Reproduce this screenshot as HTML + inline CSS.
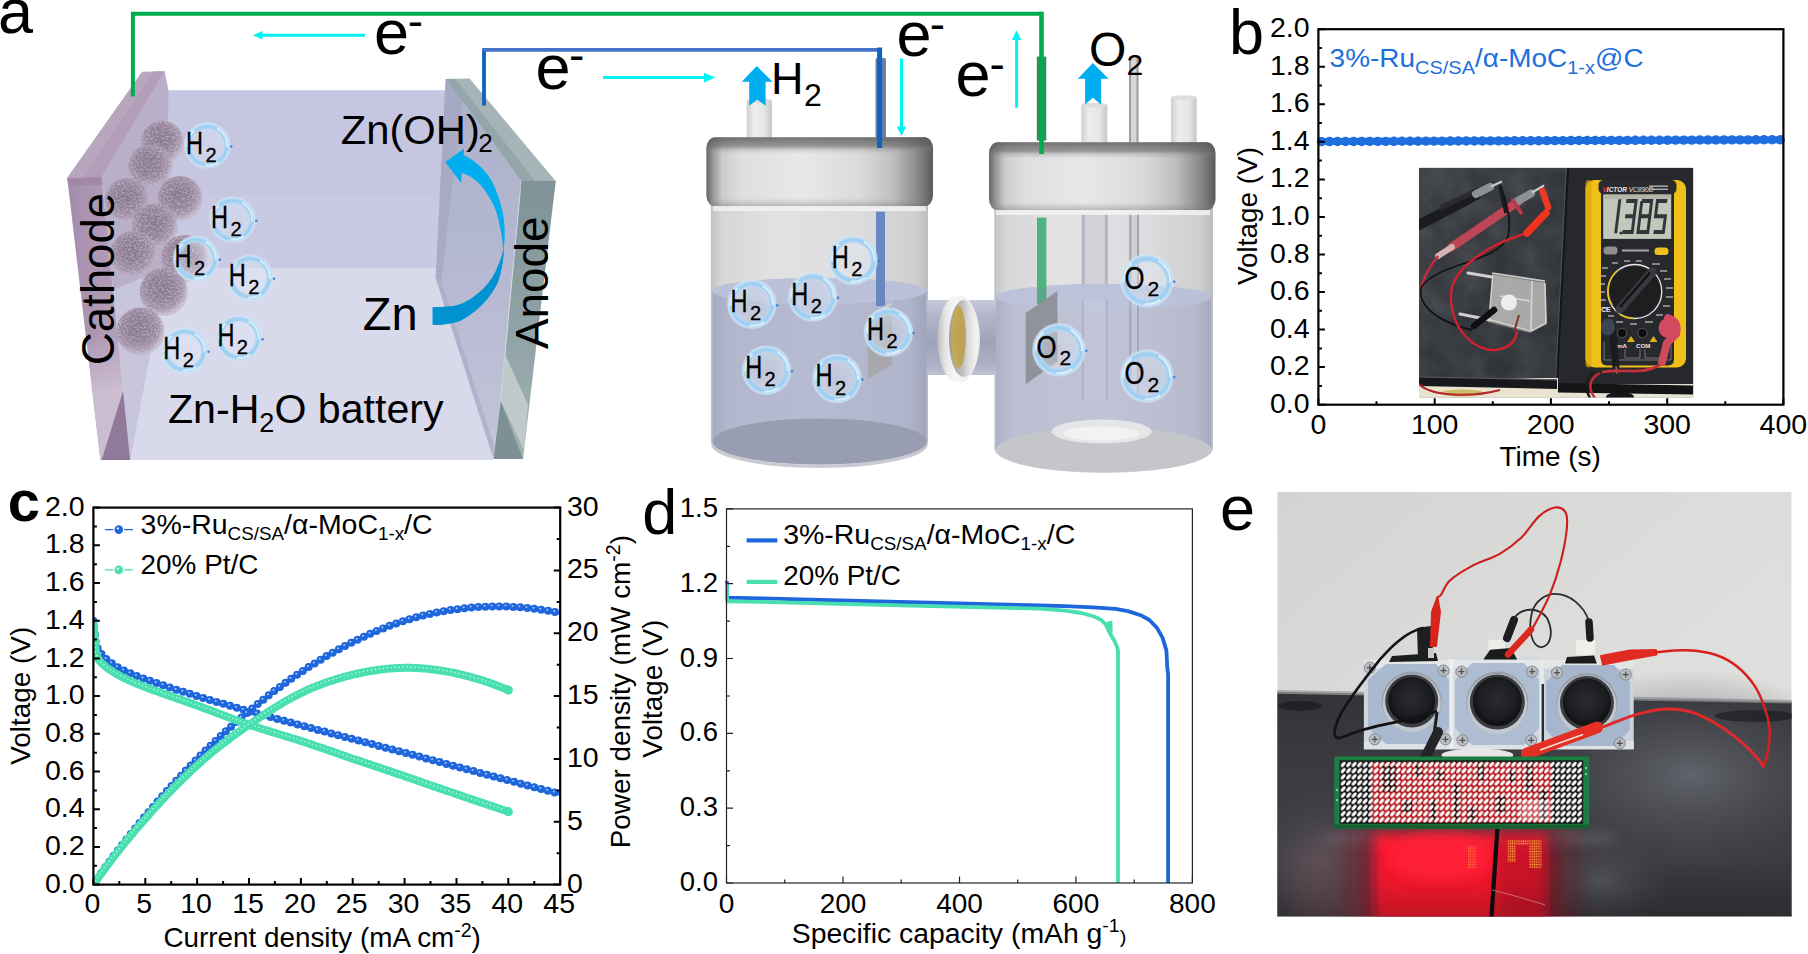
<!DOCTYPE html>
<html><head><meta charset="utf-8"><title>Figure</title>
<style>
html,body{margin:0;padding:0;background:#fff;}
body{width:1808px;height:954px;overflow:hidden;font-family:"Liberation Sans",sans-serif;}
svg{display:block;font-family:"Liberation Sans",sans-serif;}
.tk{font-size:28.5px;fill:#000;}
.pl{font-size:63px;fill:#000;}
.ti{font-size:27.9px;fill:#000;}
</style></head>
<body>
<svg width="1808" height="954" viewBox="0 0 1808 954">
<!-- defs -->
<defs>
<radialGradient id="sph" cx="45%" cy="42%" r="55%">
 <stop offset="0" stop-color="#85728b"/><stop offset=".5" stop-color="#907e96"/><stop offset=".82" stop-color="#a594ab"/><stop offset="1" stop-color="#b8abbe" stop-opacity=".55"/>
</radialGradient>
<radialGradient id="bub" cx="50%" cy="50%" r="50%">
 <stop offset="0" stop-color="#e4ecf8" stop-opacity=".25"/><stop offset=".66" stop-color="#e0ebf8" stop-opacity=".4"/><stop offset=".74" stop-color="#a9d4f2"/><stop offset=".84" stop-color="#9dcdf0"/><stop offset=".93" stop-color="#c3e1f7"/><stop offset="1" stop-color="#dcedfa" stop-opacity=".25"/>
</radialGradient>
<filter id="tex" x="-5%" y="-5%" width="110%" height="110%"><feTurbulence type="fractalNoise" baseFrequency="0.55" numOctaves="2" seed="7" result="n"/><feColorMatrix in="n" values="0 0 0 0 0.78  0 0 0 0 0.73  0 0 0 0 0.80  1.1 0 0 0 -0.46" result="w"/><feComposite in="w" in2="SourceGraphic" operator="in" result="wi"/><feMerge><feMergeNode in="SourceGraphic"/><feMergeNode in="wi"/></feMerge></filter>
<linearGradient id="cap" x1="0" x2="1" y1="0" y2="0">
 <stop offset="0" stop-color="#666"/><stop offset=".03" stop-color="#989898"/><stop offset=".07" stop-color="#cbcbcb"/><stop offset=".15" stop-color="#dedede"/><stop offset=".42" stop-color="#e8e8e8"/><stop offset=".68" stop-color="#dadada"/><stop offset=".82" stop-color="#c0c0c0"/><stop offset=".92" stop-color="#909090"/><stop offset="1" stop-color="#5a5a5a"/>
</linearGradient>
<linearGradient id="captop" x1="0" x2="0" y1="0" y2="1">
 <stop offset="0" stop-color="#555" stop-opacity=".8"/><stop offset=".13" stop-color="#666" stop-opacity=".62"/><stop offset=".17" stop-color="#777" stop-opacity=".3"/><stop offset=".24" stop-color="#888" stop-opacity="0"/><stop offset=".88" stop-color="#888" stop-opacity="0"/><stop offset="1" stop-color="#707070" stop-opacity=".4"/>
</linearGradient>
<linearGradient id="glass" x1="0" x2="1" y1="0" y2="0">
 <stop offset="0" stop-color="#c2c2c4"/><stop offset=".05" stop-color="#d6d6d8"/><stop offset=".3" stop-color="#e2e2e3"/><stop offset=".7" stop-color="#dcdcde"/><stop offset=".94" stop-color="#cfcfd2"/><stop offset="1" stop-color="#bdbdc0"/>
</linearGradient>
<linearGradient id="liq" x1="0" x2="1" y1="0" y2="0">
 <stop offset="0" stop-color="#a5aac1"/><stop offset=".08" stop-color="#b2b7cd"/><stop offset=".5" stop-color="#b6bbd1"/><stop offset=".92" stop-color="#afb4ca"/><stop offset="1" stop-color="#a0a5bc"/>
</linearGradient>
<linearGradient id="tube" x1="0" x2="1" y1="0" y2="0">
 <stop offset="0" stop-color="#cfcfcf"/><stop offset=".3" stop-color="#ededed"/><stop offset=".7" stop-color="#e6e6e6"/><stop offset="1" stop-color="#c6c6c6"/>
</linearGradient>
<linearGradient id="ainner" x1="0" x2="0" y1="0" y2="1"><stop offset="0" stop-color="#adb0ca"/><stop offset=".45" stop-color="#b4b7d0"/><stop offset="1" stop-color="#c3c5da"/></linearGradient>
<linearGradient id="afront" x1="0" x2="0" y1="0" y2="1"><stop offset="0" stop-color="#7f9397"/><stop offset=".5" stop-color="#8fa2a5"/><stop offset="1" stop-color="#a2b2b4"/></linearGradient>
<linearGradient id="flg" x1="0" x2="1" y1="0" y2="0"><stop offset="0" stop-color="#bdbdbd"/><stop offset=".18" stop-color="#e4e4e4"/><stop offset=".4" stop-color="#f6f6f6"/><stop offset="1" stop-color="#e9e9e9"/></linearGradient>
<linearGradient id="flg2" x1="0" x2="1" y1="0" y2="0"><stop offset="0" stop-color="#9c9c9c"/><stop offset=".45" stop-color="#bdbdbd"/><stop offset=".7" stop-color="#e0e0e0"/><stop offset="1" stop-color="#f7f7f7"/></linearGradient>
<linearGradient id="conn" x1="0" x2="0" y1="0" y2="1"><stop offset="0" stop-color="#c6c9d8"/><stop offset=".2" stop-color="#b3b7cb"/><stop offset=".55" stop-color="#9fa3b9"/><stop offset=".85" stop-color="#abafc4"/><stop offset="1" stop-color="#c0c3d3"/></linearGradient>
<linearGradient id="clow" x1="0" x2="0" y1="0" y2="1"><stop offset="0" stop-color="#d4c8d8" stop-opacity="0"/><stop offset=".45" stop-color="#d4c8d8" stop-opacity=".75"/><stop offset="1" stop-color="#d0c3d4" stop-opacity=".85"/></linearGradient>
<linearGradient id="cfront" x1="0" x2="1" y1="0" y2="0">
 <stop offset="0" stop-color="#a48dab"/><stop offset="1" stop-color="#b7a3bd"/>
</linearGradient>
</defs>
<!-- a_batt -->
<g id="batt">
<polygon points="168,90.3 446,90.3 436,268 165,268" fill="#c6c6e0"/>
<polygon points="166,195 440.5,195 436,268 165,268" fill="#c8c9e2"/>
<polygon points="165,268 436,268 493.5,460 130,460" fill="#d8d9eb"/>
<polygon points="164.6,71.3 168.5,90.3 166,268 130,460 101.7,177" fill="#b9afc9"/>
<polygon points="113,290 166,268 130,460" fill="#c8c6dc"/>
<polygon points="142,71.8 164.6,71.3 101.7,177 67.2,177.8" fill="#b8a5be"/>
<polygon points="153,71.5 164.6,71.3 101.7,177 84,177.4" fill="#b29eb8"/>
<polygon points="67.2,177.8 101.7,177 130,460 100.4,460" fill="url(#cfront)"/>
<polygon points="67.2,177.8 101.7,177 102.5,185 68.2,186" fill="#9c84a3" opacity=".7"/>
<polygon points="86,335 121.5,335 124.2,392.4 101.8,459.6 100.4,460" fill="url(#clow)"/>
<polygon points="123,391 101.7,460 130,460" fill="#917a99"/>
<polygon points="445.7,79 521.2,181 500.6,401 493.5,459 435.6,277.8" fill="url(#ainner)"/>
<polygon points="445.7,79 462,101 441.5,280 435.6,277.8" fill="#a3a7c0" opacity=".75"/>
<polygon points="435.6,277.8 441,280 496,452 493.5,459" fill="#a9adc6" opacity=".7"/>
<polygon points="445.7,79 469.6,78.5 555.7,181 521.2,181" fill="#a5b4b7"/>
<polygon points="445.7,79 455,78.8 535,181 521.2,181" fill="#8fa1a5" opacity=".75"/>
<polygon points="521.2,181 555.7,181 523,459 493.5,459 500.6,401" fill="url(#afront)"/><path d="M521.2 181 L500.6 401 L493.5 459" fill="none" stroke="#dde4e4" stroke-width="1" opacity=".8"/>
<polygon points="521.2,181 555.7,181 554.7,190 520.4,190" fill="#7f9498" opacity=".8"/>
<polygon points="504,352 528,405 524,450 500.6,401" fill="#c5cfcf" opacity=".85"/>
<polygon points="500.6,401 493.5,459 523,459" fill="#7d9094"/>
<circle cx="162.5" cy="142.3" r="21.5" fill="url(#sph)" filter="url(#tex)"/>
<circle cx="150.5" cy="166.5" r="22" fill="url(#sph)" filter="url(#tex)"/>
<circle cx="127.5" cy="200.5" r="22.5" fill="url(#sph)" filter="url(#tex)"/>
<circle cx="180" cy="198.5" r="22.5" fill="url(#sph)" filter="url(#tex)"/>
<circle cx="155" cy="226.5" r="23" fill="url(#sph)" filter="url(#tex)"/>
<circle cx="133.5" cy="254.5" r="23.5" fill="url(#sph)" filter="url(#tex)"/>
<circle cx="184.5" cy="258.5" r="23.5" fill="url(#sph)" filter="url(#tex)"/>
<circle cx="163.8" cy="292" r="24" fill="url(#sph)" filter="url(#tex)"/>
<circle cx="140.4" cy="331.5" r="24" fill="url(#sph)" filter="url(#tex)"/>
<circle cx="207.4" cy="145.6" r="23.5" fill="url(#bub)"/><circle cx="207.4" cy="145.6" r="19.8" fill="none" stroke="#eef7fd" stroke-width="2" stroke-dasharray="21.8 17.8 13.9 27.7 17.8 25.7" opacity=".75" transform="rotate(-60 207.4 145.6)"/><circle cx="231.2" cy="146.6" r="1.3" fill="#3f86d6"/><text x="186" y="153.5" font-size="32" textLength="17" lengthAdjust="spacingAndGlyphs" stroke="#000" stroke-width=".3">H</text><text x="205.4" y="161.6" font-size="20" stroke="#000" stroke-width=".3">2</text>
<circle cx="232.5" cy="219.8" r="23.5" fill="url(#bub)"/><circle cx="232.5" cy="219.8" r="19.8" fill="none" stroke="#eef7fd" stroke-width="2" stroke-dasharray="21.8 17.8 13.9 27.7 17.8 25.7" opacity=".75" transform="rotate(-60 232.5 219.8)"/><circle cx="256.3" cy="220.8" r="1.3" fill="#3f86d6"/><text x="211.1" y="227.7" font-size="32" textLength="17" lengthAdjust="spacingAndGlyphs" stroke="#000" stroke-width=".3">H</text><text x="230.5" y="235.8" font-size="20" stroke="#000" stroke-width=".3">2</text>
<circle cx="196" cy="258.8" r="23.5" fill="url(#bub)"/><circle cx="196" cy="258.8" r="19.8" fill="none" stroke="#eef7fd" stroke-width="2" stroke-dasharray="21.8 17.8 13.9 27.7 17.8 25.7" opacity=".75" transform="rotate(-60 196 258.8)"/><circle cx="219.8" cy="259.8" r="1.3" fill="#3f86d6"/><text x="174.6" y="266.7" font-size="32" textLength="17" lengthAdjust="spacingAndGlyphs" stroke="#000" stroke-width=".3">H</text><text x="194" y="274.8" font-size="20" stroke="#000" stroke-width=".3">2</text>
<circle cx="250.2" cy="277.7" r="23.5" fill="url(#bub)"/><circle cx="250.2" cy="277.7" r="19.8" fill="none" stroke="#eef7fd" stroke-width="2" stroke-dasharray="21.8 17.8 13.9 27.7 17.8 25.7" opacity=".75" transform="rotate(-60 250.2 277.7)"/><circle cx="274" cy="278.7" r="1.3" fill="#3f86d6"/><text x="228.8" y="285.6" font-size="32" textLength="17" lengthAdjust="spacingAndGlyphs" stroke="#000" stroke-width=".3">H</text><text x="248.2" y="293.7" font-size="20" stroke="#000" stroke-width=".3">2</text>
<circle cx="184.7" cy="350.7" r="23.5" fill="url(#bub)"/><circle cx="184.7" cy="350.7" r="19.8" fill="none" stroke="#eef7fd" stroke-width="2" stroke-dasharray="21.8 17.8 13.9 27.7 17.8 25.7" opacity=".75" transform="rotate(-60 184.7 350.7)"/><circle cx="208.5" cy="351.7" r="1.3" fill="#3f86d6"/><text x="163.3" y="358.6" font-size="32" textLength="17" lengthAdjust="spacingAndGlyphs" stroke="#000" stroke-width=".3">H</text><text x="182.7" y="366.7" font-size="20" stroke="#000" stroke-width=".3">2</text>
<circle cx="238.8" cy="338.2" r="23.5" fill="url(#bub)"/><circle cx="238.8" cy="338.2" r="19.8" fill="none" stroke="#eef7fd" stroke-width="2" stroke-dasharray="21.8 17.8 13.9 27.7 17.8 25.7" opacity=".75" transform="rotate(-60 238.8 338.2)"/><circle cx="262.6" cy="339.2" r="1.3" fill="#3f86d6"/><text x="217.4" y="346.1" font-size="32" textLength="17" lengthAdjust="spacingAndGlyphs" stroke="#000" stroke-width=".3">H</text><text x="236.8" y="354.2" font-size="20" stroke="#000" stroke-width=".3">2</text>
<path d="M432.7 307.2 C440 307.5 447 307 454 306.1 C462 304.5 469 301 476 295.1 C484 289 491 281 495.9 270.9 C500 262 503 254 504.2 244.5 L504.7 235.7 C504.8 226 504 216 501.4 207.1 C499 198 496 189 491.5 180.6 C487 173 482 167.5 476 163 C472 159.5 468 157 463.9 155.3 L463.9 148.7 L445.2 161.9 L461.1 182.8 L461.7 172.9 C465 174 468.5 175.3 471.6 177.3 C478 181.5 483 187 487 193.8 C492 201 496 209 498 218 C501 230 503 242 503.6 253.3 C503 263 501 273 498 281.9 C494 290 489 297.5 482.7 303.9 C475.5 311 467 317.5 458.4 321.5 C450 324 441 325 432.7 324.8 Z" fill="#00aeef"/>
<path d="M432.7 307.2 C440 307.5 447 307 454 306.1 C462 304.5 469 301 476 295.1 C484 289 491 281 495.9 270.9 C500 262 503 254 504.2 244.5 L503.6 253.3 C503 263 501 273 498 281.9 C494 290 489 297.5 482.7 303.9 C475.5 311 467 317.5 458.4 321.5 C450 324 441 325 432.7 324.8 Z" fill="#0192d2"/>
<text x="340.8" y="143.7" font-size="41" textLength="139" lengthAdjust="spacingAndGlyphs">Zn(OH)</text><text x="478.2" y="152" font-size="26">2</text>
<text x="362.8" y="329.6" font-size="47">Zn</text>
<text x="168" y="423" font-size="41" textLength="275.5" lengthAdjust="spacingAndGlyphs">Zn-H<tspan font-size="27" dy="9">2</tspan><tspan dy="-9">O battery</tspan></text>
<text transform="translate(114,365.3) rotate(-90)" font-size="45.5" textLength="172.5" lengthAdjust="spacingAndGlyphs">Cathode</text>
<text transform="translate(548.2,349) rotate(-90)" font-size="45.5" textLength="132.6" lengthAdjust="spacingAndGlyphs">Anode</text>
</g>
<!-- a_cell -->
<g id="cell">
<rect x="746.7" y="100" width="25.2" height="40" fill="url(#tube)"/><ellipse cx="759.3" cy="100.5" rx="12.6" ry="2.2" fill="#d9d9d9"/>
<path d="M710.8 200 H928 V441.5 A108.6 24.5 0 0 1 710.8 441.5 Z" fill="url(#glass)"/>
<rect x="925" y="300" width="74" height="75" fill="url(#conn)"/>
<path d="M712.5 291 A107 13 0 0 1 926.5 291 V441 A107 23 0 0 1 712.5 441 Z" fill="url(#liq)"/>
<ellipse cx="819.5" cy="291" rx="107" ry="13" fill="#bbc1d8"/>
<ellipse cx="819.5" cy="441.5" rx="107" ry="23" fill="#999db1"/>
<path d="M711.2 441.5 A108.3 23.5 0 0 0 927.8 441.5 L927.8 444.5 A108.3 23.5 0 0 1 711.2 444.5Z" fill="#c3c4cd" opacity=".9"/>
<rect x="876" y="211.7" width="9" height="94" fill="#6987c0"/>
<rect x="876" y="284" width="9" height="22" fill="#6787c2"/>
<polygon points="867.8,316 892,301.3 892,364.4 867.8,379" fill="#a8a8ac"/>
<polygon points="867.8,316 892,301.3 892,306 867.8,321" fill="#c9c9cc"/>
<rect x="706.4" y="137.2" width="226.6" height="69.2" rx="9" ry="11" fill="url(#cap)"/>
<rect x="706.4" y="137.2" width="226.6" height="69.2" rx="9" ry="11" fill="url(#captop)"/>
<rect x="713" y="206" width="213" height="5" fill="#f4f4f4" opacity=".8"/>
<circle cx="853.2" cy="260.2" r="25" fill="url(#bub)"/><circle cx="853.2" cy="260.2" r="21.3" fill="none" stroke="#eef7fd" stroke-width="2" stroke-dasharray="23.4 19.2 14.9 29.8 19.2 27.7" opacity=".75" transform="rotate(-60 853.2 260.2)"/><circle cx="878.5" cy="261.2" r="1.3" fill="#3f86d6"/><text x="831.8" y="268.1" font-size="32" textLength="17" lengthAdjust="spacingAndGlyphs" stroke="#000" stroke-width=".3">H</text><text x="851.2" y="276.2" font-size="20" stroke="#000" stroke-width=".3">2</text>
<circle cx="751.9" cy="304.2" r="25" fill="url(#bub)"/><circle cx="751.9" cy="304.2" r="21.3" fill="none" stroke="#eef7fd" stroke-width="2" stroke-dasharray="23.4 19.2 14.9 29.8 19.2 27.7" opacity=".75" transform="rotate(-60 751.9 304.2)"/><circle cx="777.2" cy="305.2" r="1.3" fill="#3f86d6"/><text x="730.5" y="312.1" font-size="32" textLength="17" lengthAdjust="spacingAndGlyphs" stroke="#000" stroke-width=".3">H</text><text x="749.9" y="320.2" font-size="20" stroke="#000" stroke-width=".3">2</text>
<circle cx="812.7" cy="296.9" r="25" fill="url(#bub)"/><circle cx="812.7" cy="296.9" r="21.3" fill="none" stroke="#eef7fd" stroke-width="2" stroke-dasharray="23.4 19.2 14.9 29.8 19.2 27.7" opacity=".75" transform="rotate(-60 812.7 296.9)"/><circle cx="838" cy="297.9" r="1.3" fill="#3f86d6"/><text x="791.3" y="304.8" font-size="32" textLength="17" lengthAdjust="spacingAndGlyphs" stroke="#000" stroke-width=".3">H</text><text x="810.7" y="312.9" font-size="20" stroke="#000" stroke-width=".3">2</text>
<circle cx="888.4" cy="332.1" r="25" fill="url(#bub)"/><circle cx="888.4" cy="332.1" r="21.3" fill="none" stroke="#eef7fd" stroke-width="2" stroke-dasharray="23.4 19.2 14.9 29.8 19.2 27.7" opacity=".75" transform="rotate(-60 888.4 332.1)"/><circle cx="913.7" cy="333.1" r="1.3" fill="#3f86d6"/><text x="867" y="340" font-size="32" textLength="17" lengthAdjust="spacingAndGlyphs" stroke="#000" stroke-width=".3">H</text><text x="886.4" y="348.1" font-size="20" stroke="#000" stroke-width=".3">2</text>
<circle cx="766.6" cy="370.2" r="25" fill="url(#bub)"/><circle cx="766.6" cy="370.2" r="21.3" fill="none" stroke="#eef7fd" stroke-width="2" stroke-dasharray="23.4 19.2 14.9 29.8 19.2 27.7" opacity=".75" transform="rotate(-60 766.6 370.2)"/><circle cx="791.9" cy="371.2" r="1.3" fill="#3f86d6"/><text x="745.2" y="378.1" font-size="32" textLength="17" lengthAdjust="spacingAndGlyphs" stroke="#000" stroke-width=".3">H</text><text x="764.6" y="386.2" font-size="20" stroke="#000" stroke-width=".3">2</text>
<circle cx="837" cy="378.5" r="25" fill="url(#bub)"/><circle cx="837" cy="378.5" r="21.3" fill="none" stroke="#eef7fd" stroke-width="2" stroke-dasharray="23.4 19.2 14.9 29.8 19.2 27.7" opacity=".75" transform="rotate(-60 837 378.5)"/><circle cx="862.3" cy="379.5" r="1.3" fill="#3f86d6"/><text x="815.6" y="386.4" font-size="32" textLength="17" lengthAdjust="spacingAndGlyphs" stroke="#000" stroke-width=".3">H</text><text x="835" y="394.5" font-size="20" stroke="#000" stroke-width=".3">2</text>
<rect x="1081.3" y="104.5" width="26" height="40" fill="url(#tube)"/><ellipse cx="1094.3" cy="105" rx="13" ry="2.3" fill="#dcdcdc"/>
<rect x="1129" y="56.6" width="9.5" height="88" fill="#d7d7d7"/><rect x="1129" y="56.6" width="2" height="88" fill="#9d9d9d"/><rect x="1136.5" y="56.6" width="2" height="88" fill="#9d9d9d"/>
<rect x="1171" y="97" width="25.6" height="47" fill="url(#tube)"/><ellipse cx="1183.8" cy="97.5" rx="12.8" ry="2.3" fill="#dedede"/>
<path d="M994.3 204 H1213 V448 A109.35 25 0 0 1 994.3 448 Z" fill="url(#glass)"/>
<rect x="1081.8" y="214" width="26" height="187" fill="#cfd0d6" opacity=".9"/><rect x="1081.8" y="214" width="3" height="187" fill="#b5b6bd"/><rect x="1104.8" y="214" width="3" height="187" fill="#b5b6bd"/>
<rect x="1129.3" y="214" width="9.7" height="180" fill="#d0d0d4"/><rect x="1129.3" y="214" width="2" height="180" fill="#a4a4aa"/><rect x="1137" y="214" width="2" height="180" fill="#a4a4aa"/>
<path d="M996 297 A107.6 13 0 0 1 1211.2 297 V448 A107.6 24 0 0 1 996 448 Z" fill="url(#liq)" opacity=".78"/>
<ellipse cx="1103.6" cy="297" rx="107.6" ry="13" fill="#bbc3db" opacity=".8"/>
<rect x="1081.8" y="300" width="26" height="101" fill="#c9cde0" opacity=".45"/><rect x="1081.8" y="300" width="2" height="101" fill="#a9adc4" opacity=".7"/><rect x="1105.8" y="300" width="2" height="101" fill="#a9adc4" opacity=".7"/>
<rect x="1129.3" y="300" width="2" height="94" fill="#9ea2b8" opacity=".8"/><rect x="1137" y="300" width="2" height="94" fill="#9ea2b8" opacity=".8"/><rect x="1131.3" y="300" width="5.7" height="94" fill="#c7cbdd" opacity=".5"/>
<ellipse cx="1103.6" cy="450" rx="107.6" ry="22.5" fill="#c5c6ca"/>
<ellipse cx="1101.6" cy="431.5" rx="50" ry="12" fill="#e6e6e8"/>
<ellipse cx="1101.6" cy="433.5" rx="38" ry="7" fill="#f2f2f2"/>
<rect x="1037" y="217.6" width="9.3" height="86" fill="#4db37f"/>
<rect x="1037" y="288" width="9.3" height="16" fill="#5aa88a"/>
<polygon points="1025.7,313 1057.4,291 1057.4,361.4 1025.7,384.3" fill="#90939b"/>
<rect x="972" y="300" width="24" height="75" fill="url(#conn)"/>
<ellipse cx="958.7" cy="339" rx="21.3" ry="44" fill="url(#flg)"/>
<ellipse cx="963.5" cy="338.5" rx="14.5" ry="38.5" fill="url(#flg2)"/>
<ellipse cx="958.6" cy="337" rx="7.2" ry="31.5" fill="#c3a951"/>
<ellipse cx="960.5" cy="338" rx="5" ry="28" fill="#b9a258" opacity=".7"/>
<rect x="989" y="142.2" width="226.5" height="68" rx="9" ry="11" fill="url(#cap)"/>
<rect x="989" y="142.2" width="226.5" height="68" rx="9" ry="11" fill="url(#captop)"/>
<rect x="996" y="210" width="214" height="5" fill="#f4f4f4" opacity=".8"/>
<circle cx="1146.9" cy="280.7" r="27" fill="url(#bub)"/><circle cx="1146.9" cy="280.7" r="23.3" fill="none" stroke="#eef7fd" stroke-width="2" stroke-dasharray="25.6 21 16.3 32.6 21 30.3" opacity=".75" transform="rotate(-60 1146.9 280.7)"/><circle cx="1174.2" cy="281.7" r="1.3" fill="#3f86d6"/><text x="1124.4" y="288.7" font-size="31" textLength="20" lengthAdjust="spacingAndGlyphs" stroke="#000" stroke-width=".3">O</text><text x="1147.4" y="296.2" font-size="21.1" stroke="#000" stroke-width=".3">2</text>
<circle cx="1058.9" cy="349.7" r="27" fill="url(#bub)"/><circle cx="1058.9" cy="349.7" r="23.3" fill="none" stroke="#eef7fd" stroke-width="2" stroke-dasharray="25.6 21 16.3 32.6 21 30.3" opacity=".75" transform="rotate(-60 1058.9 349.7)"/><circle cx="1086.2" cy="350.7" r="1.3" fill="#3f86d6"/><text x="1036.4" y="357.7" font-size="31" textLength="20" lengthAdjust="spacingAndGlyphs" stroke="#000" stroke-width=".3">O</text><text x="1059.4" y="365.2" font-size="21.1" stroke="#000" stroke-width=".3">2</text>
<circle cx="1146.9" cy="376.1" r="27" fill="url(#bub)"/><circle cx="1146.9" cy="376.1" r="23.3" fill="none" stroke="#eef7fd" stroke-width="2" stroke-dasharray="25.6 21 16.3 32.6 21 30.3" opacity=".75" transform="rotate(-60 1146.9 376.1)"/><circle cx="1174.2" cy="377.1" r="1.3" fill="#3f86d6"/><text x="1124.4" y="384.1" font-size="31" textLength="20" lengthAdjust="spacingAndGlyphs" stroke="#000" stroke-width=".3">O</text><text x="1147.4" y="391.6" font-size="21.1" stroke="#000" stroke-width=".3">2</text>
</g>
<!-- a_wires -->
<g id="wires">
<path d="M132.9 96.6 V13.8 H1041.5" fill="none" stroke="#00ac4e" stroke-width="4"/>
<rect x="1036.8" y="56.6" width="9.5" height="84" fill="#2f8f57"/>
<path d="M1041.5 11.8 V154" fill="none" stroke="#00ac4e" stroke-width="4.6"/>
<path d="M484 105.5 V49.9" fill="none" stroke="#0e63bf" stroke-width="3.8"/>
<path d="M482.1 49.9 H882" fill="none" stroke="#4472c4" stroke-width="3.7"/>
<rect x="875.5" y="58" width="10.5" height="80" rx="1.5" fill="#6c7fa6"/>
<path d="M879.6 47.5 V148" fill="none" stroke="#0e63bf" stroke-width="5"/>
<path d="M364.9 35.2 H262" stroke="#00f4f4" stroke-width="3"/><polygon points="252.9,35.2 262.5,31 262.5,39.4" fill="#00f4f4"/>
<path d="M603 77.6 H706" stroke="#00f4f4" stroke-width="3"/><polygon points="715.2,77.5 704,72.8 704,82.4" fill="#00f4f4"/>
<path d="M901.5 58.4 V128" stroke="#00f4f4" stroke-width="3"/><polygon points="901.5,136 896.8,126.5 906.2,126.5" fill="#00f4f4"/>
<path d="M1016.6 107.7 V38" stroke="#00f4f4" stroke-width="3"/><polygon points="1016.6,30.2 1011.9,40 1021.3,40" fill="#00f4f4"/>
<path d="M756.8 66 L772.6 81.8 H765.6 V105.7 L757.2 99.4 L749.2 105.7 V81.8 H741.7 Z" fill="#00aeef"/>
<path d="M1092.9 62.9 L1108.5 78.8 H1101 V104.5 L1092.9 97.7 L1085.1 104.5 V78.8 H1077.8 Z" fill="#00aeef"/>
<text x="374.1" y="53.8" font-size="63">e</text><text x="407.8" y="36.8" font-size="46">-</text>
<text x="535.4" y="89" font-size="63">e</text><text x="569.1" y="71.1" font-size="46">-</text>
<text x="896.5" y="56" font-size="63">e</text><text x="929.7" y="40.1" font-size="46">-</text>
<text x="955.6" y="96.3" font-size="63">e</text><text x="989.5" y="79.9" font-size="46">-</text>
<text x="771" y="94.4" font-size="45">H</text><text x="804" y="105.7" font-size="32">2</text>
<text x="1089" y="65.5" font-size="48">O</text><text x="1126.5" y="75" font-size="30">2</text>
</g>
<!-- b_photo -->
<g id="bphoto">
<clipPath id="bclip"><rect x="1419" y="167.7" width="274.3" height="229.9"/></clipPath>
<defs><linearGradient id="tblL" x1="0" x2="1" y1="0" y2="1"><stop offset="0" stop-color="#3b3e44"/><stop offset=".5" stop-color="#33363b"/><stop offset="1" stop-color="#2e3136"/></linearGradient><filter id="mott" x="0" y="0" width="100%" height="100%"><feTurbulence type="fractalNoise" baseFrequency="0.035" numOctaves="3" seed="4"/><feColorMatrix values="0 0 0 0 0.45  0 0 0 0 0.47  0 0 0 0 0.5  0.9 0.4 0 0 -0.45"/></filter></defs>
<g clip-path="url(#bclip)">
<rect x="1419" y="167.7" width="274.3" height="229.9" fill="#2b2d31"/>
<polygon points="1419,167.7 1567.5,167.7 1556.5,380 1419,378" fill="url(#tblL)"/>
<rect x="1419" y="167.7" width="150" height="212" filter="url(#mott)" opacity=".28"/>
<polygon points="1569,167.7 1693.3,167.7 1693.3,386 1558.5,384" fill="#26282c"/>
<path d="M1568 167.7 L1557 384" stroke="#15161a" stroke-width="2.2"/><path d="M1566.3 167.7 L1555.3 384" stroke="#5a5d62" stroke-width="1" opacity=".7"/>
<rect x="1419" y="378" width="139" height="20" fill="#e9e3cf"/>
<rect x="1557" y="384" width="137" height="14" fill="#e6e2d6"/>
<polygon points="1419,376.5 1557,379.5 1557,389 1419,386" fill="#17181b"/>
<polygon points="1558,383 1693.3,385.5 1693.3,394.5 1558,392.5" fill="#131416"/>
<path d="M1419,376.8 L1557,379.8" stroke="#55585e" stroke-width="1.2"/>
<ellipse cx="1462" cy="393" rx="22" ry="3.5" fill="#c9b24a" opacity=".8"/>
<path d="M1419 384 C1430 396 1470 398 1500 390" fill="none" stroke="#b3262e" stroke-width="2"/>
<path d="M1600 373 C1586 380 1590 392 1595 398" fill="none" stroke="#c0303a" stroke-width="2.5"/><path d="M1593 372 C1584 382 1586 392 1590 398" fill="none" stroke="#1b1b1d" stroke-width="2.5"/>
<ellipse cx="1620" cy="397" rx="14" ry="5" fill="#15161a"/>
<path d="M1419 225 L1476 195" stroke="#1b1c1f" stroke-width="10" stroke-linecap="round"/>
<path d="M1440 208 L1480 189" stroke="#2a2b2f" stroke-width="5"/>
<path d="M1476 194 L1490 187" stroke="#8d9195" stroke-width="8" stroke-linecap="round"/>
<path d="M1491 186.5 L1502 181.5" stroke="#c9c9c9" stroke-width="2.4"/>
<path d="M1451 247.5 L1519 201" stroke="#bd4556" stroke-width="8.5" stroke-linecap="round"/>
<path d="M1438 256 L1452 247" stroke="#d9b0b0" stroke-width="6" stroke-linecap="round"/>
<path d="M1517 201.5 L1531 193.5" stroke="#8d9195" stroke-width="8" stroke-linecap="round"/>
<path d="M1532 192.5 L1544 185.5" stroke="#c9c9c9" stroke-width="2.4"/>
<path d="M1512 199 L1522 214" stroke="#b53a4c" stroke-width="4"/>
<path d="M1438 256 C1425 272 1420 285 1419 300" fill="none" stroke="#c22c3a" stroke-width="2.6"/>
<path d="M1500 184 C1506 200 1512 222 1508 236 C1500 262 1440 262 1422 286 C1416 300 1430 320 1472 330" fill="none" stroke="#141416" stroke-width="1.8"/>
<path d="M1524 234 C1490 244 1452 268 1451 294 C1450 330 1476 352 1496 350 C1510 348 1516 340 1517 331" fill="none" stroke="#d0222e" stroke-width="2.4"/>
<path d="M1542.5 191 L1548 207" stroke="#ee3a22" stroke-width="6.5" stroke-linecap="round"/>
<path d="M1546 213 L1527 233" stroke="#f0321e" stroke-width="7.5" stroke-linecap="round"/>
<path d="M1500 186 L1506 213" stroke="#1a1a1c" stroke-width="3.6"/>
<polygon points="1492,273 1545,281 1547,324 1530,333 1488,322" fill="#b9b9b7" opacity=".55"/>
<polygon points="1494,275 1532,281 1531,330 1490,320" fill="#d4d4d0" opacity=".5"/>
<polygon points="1532,281 1545,283 1546,323 1531,330" fill="#c9c9c6" opacity=".55"/>
<path d="M1492 273 L1545 281 M1532 281 L1531 330 M1545 283 L1546 323 M1490 320 L1531 331 L1546 323 M1493 275 L1489 321 M1500 296 L1530 301" fill="none" stroke="#e2e2df" stroke-width="1.6" opacity=".8"/>
<path d="M1468 273 L1492 277 M1460 314 L1490 320" stroke="#cfcfcf" stroke-width="3.2" stroke-linecap="round"/>
<circle cx="1509" cy="302.5" r="8" fill="#eeeeee"/>
<path d="M1474 326 L1494 310" stroke="#101012" stroke-width="6.5" stroke-linecap="round"/>
<path d="M1519 315 L1514 332" stroke="#7a3a22" stroke-width="2"/>
<rect x="1585.5" y="180" width="100.5" height="187.5" rx="9" fill="#f0c01a"/>
<rect x="1585.5" y="180" width="6" height="187.5" rx="4" fill="#d9a90e" opacity=".7"/>
<path d="M1601 182 H1674 V359 Q1674 365.5 1668 365.5 H1607 Q1601 365.5 1601 359Z" fill="#28292c"/>
<rect x="1598.5" y="180" width="78" height="14" rx="5" fill="#2a2b2e"/>
<rect x="1603.2" y="194.5" width="68" height="44.4" fill="#c3c6bb"/>
<rect x="1603.2" y="194.5" width="68" height="4.5" fill="#aeb1a6" opacity=".8"/>
<g transform="translate(1612.5,199.3) skewX(-7) scale(0.82,1.13)" stroke="#30363a" stroke-width="3.6" fill="none" stroke-linecap="butt"><path d="M9 0 V30"/><path d="M17 1.5 H29 V29 H17 M18 15 H29"/><path d="M36 1.5 H48 V29 H36 V1.5 M36 15 H48"/><path d="M67 1.5 H55 V15 H67 V29 H55"/></g><circle cx="1621" cy="233" r="1.6" fill="#30363a"/>
<text x="1602.5" y="191.5" font-size="6.5" font-weight="bold" fill="#e8e8e8" font-style="italic"><tspan fill="#e23a2e">V</tspan>ICTOR <tspan font-weight="normal">VC890D</tspan></text>
<rect x="1649" y="185.5" width="19" height="1.3" fill="#bbb"/><rect x="1649" y="188.6" width="19" height="1.3" fill="#bbb"/>
<rect x="1603.5" y="246.5" width="14" height="8" rx="3.5" fill="#8f8f8f"/>
<rect x="1654.5" y="247.6" width="14" height="7.4" rx="3.5" fill="#f0c01c"/>
<rect x="1622" y="249.5" width="27" height="2" fill="#bdbdbd" opacity=".85"/>
<circle cx="1634.8" cy="291.5" r="27" fill="none" stroke="#e8e8e8" stroke-width="1.3"/>
<path d="M1612 305 A27 27 0 0 1 1618 270" fill="none" stroke="#e8c21c" stroke-width="1.6"/>
<path d="M1620 314.3 A27 27 0 0 0 1634 318.5" fill="none" stroke="#e8c21c" stroke-width="1.6"/>
<circle cx="1634.8" cy="291.5" r="25" fill="#1d1e20"/>
<path d="M1620 309 L1652 272" stroke="#38393c" stroke-width="9" stroke-linecap="round"/>
<path d="M1620 307 L1650 272.5" stroke="#0f1011" stroke-width="2"/>
<g stroke="#bdbdbd" stroke-width="1.6" opacity=".85"><path d="M1602 268 h6 M1600 276 h6 M1599 284 h6 M1599 292 h6 M1600 300 h6 M1602 308 h6 M1608 316 h6 M1616 322 h7 M1630 324 h7 M1645 322 h8 M1656 315 h7 M1663 306 h7 M1666 297 h7 M1666 288 h7 M1664 279 h7 M1660 271 h7 M1652 264 h8 M1636 261 h6 M1624 261 h6 M1612 263 h6"/></g>
<text x="1601" y="312" font-size="7" font-weight="bold" fill="#e8e8e8">CE</text>
<circle cx="1622" cy="333" r="4.6" fill="#0c0c0d" stroke="#4a4b4e" stroke-width="1.3"/><circle cx="1642.5" cy="333" r="4.6" fill="#0c0c0d" stroke="#4a4b4e" stroke-width="1.3"/>
<polygon points="1631,336 1627,342 1635,342" fill="#e0b21a"/><polygon points="1653.5,336 1649.5,342 1657.5,342" fill="#e0b21a"/>
<text x="1617" y="347.5" font-size="6.2" fill="#e8e8e8" font-weight="bold">mA</text><text x="1636" y="347.5" font-size="6.2" fill="#e8e8e8" font-weight="bold">COM</text>
<path d="M1604 342 V360 H1671 V345 M1625 349 V358 H1640 V349 M1645 349 V358 H1662" fill="none" stroke="#8a8a8a" stroke-width=".8"/>
<path d="M1605 321 L1612 325 L1614 347 L1616 368" fill="none" stroke="#1a1b1e" stroke-width="7" stroke-linejoin="round"/>
<ellipse cx="1608" cy="327" rx="7" ry="8.5" fill="#3c4754"/>
<path d="M1616 366 L1617 374" stroke="#8a6a4a" stroke-width="1.6"/>
<path d="M1668 318 Q1679 322 1676 334 L1667 343 L1662 362" fill="none" stroke="#cf4a5e" stroke-width="8" stroke-linejoin="round" stroke-linecap="round"/>
<ellipse cx="1668" cy="328" rx="9.5" ry="10" fill="#d44a60"/>
<path d="M1660 365 C1640 376 1625 368 1602 372" fill="none" stroke="#c7303e" stroke-width="2.6"/>
</g></g>
<!-- b -->
<g id="pb">
<path d="M1319.4 141.6 L1783.4 139.7" stroke="#1e6ee0" stroke-width="7" fill="none"/>
<path d="M1321.4 141.6 L1783.4 139.7" stroke="#1e6ee0" stroke-width="9.4" stroke-linecap="round" stroke-dasharray="0 8.05" fill="none"/>
<rect x="1318.4" y="29.2" width="465" height="375.5" fill="none" stroke="#000" stroke-width="2.2"/>
<path d="M1318.4 404.7h6.5M1318.4 385.9h3.5M1318.4 367.1h6.5M1318.4 348.4h3.5M1318.4 329.6h6.5M1318.4 310.8h3.5M1318.4 292h6.5M1318.4 273.3h3.5M1318.4 254.5h6.5M1318.4 235.7h3.5M1318.4 216.9h6.5M1318.4 198.2h3.5M1318.4 179.4h6.5M1318.4 160.6h3.5M1318.4 141.8h6.5M1318.4 123.1h3.5M1318.4 104.3h6.5M1318.4 85.5h3.5M1318.4 66.8h6.5M1318.4 48h3.5M1318.4 29.2h6.5M1318.4 404.7v-6.5M1376.5 404.7v-3.5M1434.7 404.7v-6.5M1492.8 404.7v-3.5M1550.9 404.7v-6.5M1609 404.7v-3.5M1667.2 404.7v-6.5M1725.3 404.7v-3.5M1783.4 404.7v-6.5" stroke="#000" stroke-width="2" fill="none"/>
<text x="1309.6" y="412.7" text-anchor="end" class="tk">0.0</text>
<text x="1309.6" y="375.1" text-anchor="end" class="tk">0.2</text>
<text x="1309.6" y="337.6" text-anchor="end" class="tk">0.4</text>
<text x="1309.6" y="300" text-anchor="end" class="tk">0.6</text>
<text x="1309.6" y="262.5" text-anchor="end" class="tk">0.8</text>
<text x="1309.6" y="224.9" text-anchor="end" class="tk">1.0</text>
<text x="1309.6" y="187.4" text-anchor="end" class="tk">1.2</text>
<text x="1309.6" y="149.8" text-anchor="end" class="tk">1.4</text>
<text x="1309.6" y="112.3" text-anchor="end" class="tk">1.6</text>
<text x="1309.6" y="74.8" text-anchor="end" class="tk">1.8</text>
<text x="1309.6" y="37.2" text-anchor="end" class="tk">2.0</text>
<text x="1318.4" y="433.5" text-anchor="middle" class="tk">0</text>
<text x="1434.7" y="433.5" text-anchor="middle" class="tk">100</text>
<text x="1550.9" y="433.5" text-anchor="middle" class="tk">200</text>
<text x="1667.2" y="433.5" text-anchor="middle" class="tk">300</text>
<text x="1783.4" y="433.5" text-anchor="middle" class="tk">400</text>
<text x="1550.1" y="465.6" text-anchor="middle" class="ti">Time (s)</text>
<text transform="translate(1256.8,216) rotate(-90)" text-anchor="middle" class="ti">Voltage (V)</text>
<text x="1329.6" y="66.6" font-size="26.6" fill="#1e6fdc" textLength="314" lengthAdjust="spacingAndGlyphs">3%-Ru<tspan font-size="19" dy="7.3">CS/SA</tspan><tspan dy="-7.3">/α-MoC</tspan><tspan font-size="19" dy="7.3">1-x</tspan><tspan dy="-7.3">@C</tspan></text>
</g>
<!-- c -->
<g id="pc">
<clipPath id="cclip"><rect x="93.4" y="507.6" width="467.8" height="377"/></clipPath>
<g clip-path="url(#cclip)" fill="none" stroke-linejoin="round">
<path d="M93.4 620.7 L96 644.6 L98.6 650.3 L101.2 653.8 L103.8 656.5 L106.4 659.1 L109 661.3 L111.6 663.2 L114.1 665 L116.7 666.6 L119.3 668.1 L121.9 669.4 L124.5 670.7 L127.1 671.9 L129.7 673 L132.3 674.1 L134.9 675.2 L137.5 676.2 L140.1 677.2 L142.7 678.2 L145.3 679.1 L147.9 680.1 L150.5 681 L153 681.9 L155.6 682.8 L158.2 683.7 L160.8 684.6 L163.4 685.4 L166 686.3 L168.6 687.2 L171.2 688 L173.8 688.8 L176.4 689.7 L179 690.5 L181.6 691.3 L184.2 692.1 L186.8 692.9 L189.4 693.7 L191.9 694.5 L194.5 695.3 L197.1 696.1 L199.7 696.9 L202.3 697.7 L204.9 698.4 L207.5 699.2 L210.1 700 L212.7 700.8 L215.3 701.5 L217.9 702.3 L220.5 703 L223.1 703.8 L225.7 704.5 L228.3 705.3 L230.8 706 L233.4 706.8 L236 707.5 L238.6 708.2 L241.2 709 L243.8 709.7 L246.4 710.4 L249 711.2 L251.6 711.9 L254.2 712.6 L256.8 713.4 L259.4 714.1 L262 714.8 L264.6 715.5 L267.2 716.2 L269.7 716.9 L272.3 717.6 L274.9 718.3 L277.5 719 L280.1 719.7 L282.7 720.4 L285.3 721.1 L287.9 721.8 L290.5 722.5 L293.1 723.2 L295.7 723.9 L298.3 724.6 L300.9 725.3 L303.5 726 L306.1 726.7 L308.6 727.4 L311.2 728.1 L313.8 728.8 L316.4 729.5 L319 730.2 L321.6 730.9 L324.2 731.5 L326.8 732.2 L329.4 732.9 L332 733.6 L334.6 734.3 L337.2 735 L339.8 735.7 L342.4 736.3 L345 737 L347.5 737.7 L350.1 738.4 L352.7 739.1 L355.3 739.8 L357.9 740.4 L360.5 741.1 L363.1 741.8 L365.7 742.5 L368.3 743.2 L370.9 743.8 L373.5 744.5 L376.1 745.2 L378.7 745.9 L381.3 746.5 L383.9 747.2 L386.4 747.9 L389 748.6 L391.6 749.2 L394.2 749.9 L396.8 750.6 L399.4 751.3 L402 752 L404.6 752.7 L407.2 753.3 L409.8 754 L412.4 754.7 L415 755.4 L417.6 756.1 L420.2 756.8 L422.8 757.5 L425.3 758.2 L427.9 758.9 L430.5 759.6 L433.1 760.3 L435.7 761 L438.3 761.7 L440.9 762.4 L443.5 763.1 L446.1 763.8 L448.7 764.5 L451.3 765.2 L453.9 765.9 L456.5 766.6 L459.1 767.3 L461.7 768 L464.2 768.7 L466.8 769.4 L469.4 770.1 L472 770.7 L474.6 771.4 L477.2 772.1 L479.8 772.8 L482.4 773.5 L485 774.2 L487.6 774.9 L490.2 775.6 L492.8 776.2 L495.4 776.9 L498 777.6 L500.6 778.3 L503.1 779 L505.7 779.7 L508.3 780.4 L510.9 781 L513.5 781.7 L516.1 782.4 L518.7 783.1 L521.3 783.8 L523.9 784.5 L526.5 785.2 L529.1 785.9 L531.7 786.6 L534.3 787.2 L536.9 787.9 L539.5 788.6 L542 789.3 L544.6 790 L547.2 790.7 L549.8 791.4 L552.4 792.1 L555 792.7 L557.6 793.4 L560.2 794.1" stroke="#1e66dc" stroke-width="3.2"/>
<path d="M93.4 620.7 L96 644.6 L98.6 650.3 L101.2 653.8 L103.8 656.5 L106.4 659.1 L109 661.3 L111.6 663.2 L114.1 665 L116.7 666.6 L119.3 668.1 L121.9 669.4 L124.5 670.7 L127.1 671.9 L129.7 673 L132.3 674.1 L134.9 675.2 L137.5 676.2 L140.1 677.2 L142.7 678.2 L145.3 679.1 L147.9 680.1 L150.5 681 L153 681.9 L155.6 682.8 L158.2 683.7 L160.8 684.6 L163.4 685.4 L166 686.3 L168.6 687.2 L171.2 688 L173.8 688.8 L176.4 689.7 L179 690.5 L181.6 691.3 L184.2 692.1 L186.8 692.9 L189.4 693.7 L191.9 694.5 L194.5 695.3 L197.1 696.1 L199.7 696.9 L202.3 697.7 L204.9 698.4 L207.5 699.2 L210.1 700 L212.7 700.8 L215.3 701.5 L217.9 702.3 L220.5 703 L223.1 703.8 L225.7 704.5 L228.3 705.3 L230.8 706 L233.4 706.8 L236 707.5 L238.6 708.2 L241.2 709 L243.8 709.7 L246.4 710.4 L249 711.2 L251.6 711.9 L254.2 712.6 L256.8 713.4 L259.4 714.1 L262 714.8 L264.6 715.5 L267.2 716.2 L269.7 716.9 L272.3 717.6 L274.9 718.3 L277.5 719 L280.1 719.7 L282.7 720.4 L285.3 721.1 L287.9 721.8 L290.5 722.5 L293.1 723.2 L295.7 723.9 L298.3 724.6 L300.9 725.3 L303.5 726 L306.1 726.7 L308.6 727.4 L311.2 728.1 L313.8 728.8 L316.4 729.5 L319 730.2 L321.6 730.9 L324.2 731.5 L326.8 732.2 L329.4 732.9 L332 733.6 L334.6 734.3 L337.2 735 L339.8 735.7 L342.4 736.3 L345 737 L347.5 737.7 L350.1 738.4 L352.7 739.1 L355.3 739.8 L357.9 740.4 L360.5 741.1 L363.1 741.8 L365.7 742.5 L368.3 743.2 L370.9 743.8 L373.5 744.5 L376.1 745.2 L378.7 745.9 L381.3 746.5 L383.9 747.2 L386.4 747.9 L389 748.6 L391.6 749.2 L394.2 749.9 L396.8 750.6 L399.4 751.3 L402 752 L404.6 752.7 L407.2 753.3 L409.8 754 L412.4 754.7 L415 755.4 L417.6 756.1 L420.2 756.8 L422.8 757.5 L425.3 758.2 L427.9 758.9 L430.5 759.6 L433.1 760.3 L435.7 761 L438.3 761.7 L440.9 762.4 L443.5 763.1 L446.1 763.8 L448.7 764.5 L451.3 765.2 L453.9 765.9 L456.5 766.6 L459.1 767.3 L461.7 768 L464.2 768.7 L466.8 769.4 L469.4 770.1 L472 770.7 L474.6 771.4 L477.2 772.1 L479.8 772.8 L482.4 773.5 L485 774.2 L487.6 774.9 L490.2 775.6 L492.8 776.2 L495.4 776.9 L498 777.6 L500.6 778.3 L503.1 779 L505.7 779.7 L508.3 780.4 L510.9 781 L513.5 781.7 L516.1 782.4 L518.7 783.1 L521.3 783.8 L523.9 784.5 L526.5 785.2 L529.1 785.9 L531.7 786.6 L534.3 787.2 L536.9 787.9 L539.5 788.6 L542 789.3 L544.6 790 L547.2 790.7 L549.8 791.4 L552.4 792.1 L555 792.7 L557.6 793.4 L560.2 794.1" stroke="#1e66dc" stroke-width="8" stroke-linecap="round" stroke-dasharray="0 7"/>
<path d="M93.4 620.7 L96 644.6 L98.6 650.3 L101.2 653.8 L103.8 656.5 L106.4 659.1 L109 661.3 L111.6 663.2 L114.1 665 L116.7 666.6 L119.3 668.1 L121.9 669.4 L124.5 670.7 L127.1 671.9 L129.7 673 L132.3 674.1 L134.9 675.2 L137.5 676.2 L140.1 677.2 L142.7 678.2 L145.3 679.1 L147.9 680.1 L150.5 681 L153 681.9 L155.6 682.8 L158.2 683.7 L160.8 684.6 L163.4 685.4 L166 686.3 L168.6 687.2 L171.2 688 L173.8 688.8 L176.4 689.7 L179 690.5 L181.6 691.3 L184.2 692.1 L186.8 692.9 L189.4 693.7 L191.9 694.5 L194.5 695.3 L197.1 696.1 L199.7 696.9 L202.3 697.7 L204.9 698.4 L207.5 699.2 L210.1 700 L212.7 700.8 L215.3 701.5 L217.9 702.3 L220.5 703 L223.1 703.8 L225.7 704.5 L228.3 705.3 L230.8 706 L233.4 706.8 L236 707.5 L238.6 708.2 L241.2 709 L243.8 709.7 L246.4 710.4 L249 711.2 L251.6 711.9 L254.2 712.6 L256.8 713.4 L259.4 714.1 L262 714.8 L264.6 715.5 L267.2 716.2 L269.7 716.9 L272.3 717.6 L274.9 718.3 L277.5 719 L280.1 719.7 L282.7 720.4 L285.3 721.1 L287.9 721.8 L290.5 722.5 L293.1 723.2 L295.7 723.9 L298.3 724.6 L300.9 725.3 L303.5 726 L306.1 726.7 L308.6 727.4 L311.2 728.1 L313.8 728.8 L316.4 729.5 L319 730.2 L321.6 730.9 L324.2 731.5 L326.8 732.2 L329.4 732.9 L332 733.6 L334.6 734.3 L337.2 735 L339.8 735.7 L342.4 736.3 L345 737 L347.5 737.7 L350.1 738.4 L352.7 739.1 L355.3 739.8 L357.9 740.4 L360.5 741.1 L363.1 741.8 L365.7 742.5 L368.3 743.2 L370.9 743.8 L373.5 744.5 L376.1 745.2 L378.7 745.9 L381.3 746.5 L383.9 747.2 L386.4 747.9 L389 748.6 L391.6 749.2 L394.2 749.9 L396.8 750.6 L399.4 751.3 L402 752 L404.6 752.7 L407.2 753.3 L409.8 754 L412.4 754.7 L415 755.4 L417.6 756.1 L420.2 756.8 L422.8 757.5 L425.3 758.2 L427.9 758.9 L430.5 759.6 L433.1 760.3 L435.7 761 L438.3 761.7 L440.9 762.4 L443.5 763.1 L446.1 763.8 L448.7 764.5 L451.3 765.2 L453.9 765.9 L456.5 766.6 L459.1 767.3 L461.7 768 L464.2 768.7 L466.8 769.4 L469.4 770.1 L472 770.7 L474.6 771.4 L477.2 772.1 L479.8 772.8 L482.4 773.5 L485 774.2 L487.6 774.9 L490.2 775.6 L492.8 776.2 L495.4 776.9 L498 777.6 L500.6 778.3 L503.1 779 L505.7 779.7 L508.3 780.4 L510.9 781 L513.5 781.7 L516.1 782.4 L518.7 783.1 L521.3 783.8 L523.9 784.5 L526.5 785.2 L529.1 785.9 L531.7 786.6 L534.3 787.2 L536.9 787.9 L539.5 788.6 L542 789.3 L544.6 790 L547.2 790.7 L549.8 791.4 L552.4 792.1 L555 792.7 L557.6 793.4 L560.2 794.1" stroke="#cfe0ff" stroke-width="2" stroke-linecap="round" stroke-dasharray="0 7" transform="translate(-0.8,-1)" opacity=".8"/>
<path d="M93.4 884.6 L96 880.6 L98.6 876.8 L101.2 873.1 L103.8 869.4 L106.4 865.8 L109 862.3 L111.6 858.8 L114.1 855.3 L116.7 851.9 L119.3 848.5 L121.9 845.1 L124.5 841.8 L127.1 838.5 L129.7 835.2 L132.3 832 L134.9 828.7 L137.5 825.5 L140.1 822.4 L142.7 819.2 L145.3 816.1 L147.9 813 L150.5 810 L153 806.9 L155.6 803.9 L158.2 800.9 L160.8 797.9 L163.4 795 L166 792.1 L168.6 789.2 L171.2 786.3 L173.8 783.5 L176.4 780.6 L179 777.8 L181.6 775.1 L184.2 772.3 L186.8 769.6 L189.4 766.9 L191.9 764.2 L194.5 761.6 L197.1 758.9 L199.7 756.3 L202.3 753.7 L204.9 751.2 L207.5 748.7 L210.1 746.1 L212.7 743.6 L215.3 741.2 L217.9 738.7 L220.5 736.3 L223.1 733.9 L225.7 731.5 L228.3 729.2 L230.8 726.9 L233.4 724.6 L236 722.3 L238.6 720 L241.2 717.8 L243.8 715.5 L246.4 713.4 L249 711.2 L251.6 709 L254.2 706.9 L256.8 704.8 L259.4 702.7 L262 700.6 L264.6 698.6 L267.2 696.6 L269.7 694.6 L272.3 692.6 L274.9 690.6 L277.5 688.7 L280.1 686.8 L282.7 684.9 L285.3 683 L287.9 681.1 L290.5 679.3 L293.1 677.5 L295.7 675.7 L298.3 674 L300.9 672.2 L303.5 670.5 L306.1 668.8 L308.6 667.1 L311.2 665.5 L313.8 663.9 L316.4 662.3 L319 660.7 L321.6 659.1 L324.2 657.6 L326.8 656 L329.4 654.6 L332 653.1 L334.6 651.6 L337.2 650.2 L339.8 648.8 L342.4 647.4 L345 646 L347.5 644.7 L350.1 643.4 L352.7 642.1 L355.3 640.8 L357.9 639.5 L360.5 638.3 L363.1 637.1 L365.7 635.9 L368.3 634.7 L370.9 633.6 L373.5 632.4 L376.1 631.3 L378.7 630.2 L381.3 629.2 L383.9 628.1 L386.4 627.1 L389 626.1 L391.6 625.2 L394.2 624.2 L396.8 623.3 L399.4 622.4 L402 621.5 L404.6 620.7 L407.2 619.9 L409.8 619.1 L412.4 618.4 L415 617.6 L417.6 616.9 L420.2 616.2 L422.8 615.6 L425.3 615 L427.9 614.4 L430.5 613.8 L433.1 613.2 L435.7 612.7 L438.3 612.2 L440.9 611.7 L443.5 611.3 L446.1 610.8 L448.7 610.4 L451.3 610 L453.9 609.6 L456.5 609.3 L459.1 608.9 L461.7 608.6 L464.2 608.3 L466.8 608 L469.4 607.8 L472 607.5 L474.6 607.3 L477.2 607.1 L479.8 607 L482.4 606.8 L485 606.7 L487.6 606.6 L490.2 606.5 L492.8 606.5 L495.4 606.4 L498 606.4 L500.6 606.4 L503.1 606.5 L505.7 606.5 L508.3 606.6 L510.9 606.7 L513.5 606.9 L516.1 607 L518.7 607.2 L521.3 607.4 L523.9 607.6 L526.5 607.9 L529.1 608.1 L531.7 608.4 L534.3 608.7 L536.9 609.1 L539.5 609.4 L542 609.8 L544.6 610.2 L547.2 610.7 L549.8 611.1 L552.4 611.6 L555 612.1 L557.6 612.6 L560.2 613.2" stroke="#1e66dc" stroke-width="3.2"/>
<path d="M93.4 884.6 L96 880.6 L98.6 876.8 L101.2 873.1 L103.8 869.4 L106.4 865.8 L109 862.3 L111.6 858.8 L114.1 855.3 L116.7 851.9 L119.3 848.5 L121.9 845.1 L124.5 841.8 L127.1 838.5 L129.7 835.2 L132.3 832 L134.9 828.7 L137.5 825.5 L140.1 822.4 L142.7 819.2 L145.3 816.1 L147.9 813 L150.5 810 L153 806.9 L155.6 803.9 L158.2 800.9 L160.8 797.9 L163.4 795 L166 792.1 L168.6 789.2 L171.2 786.3 L173.8 783.5 L176.4 780.6 L179 777.8 L181.6 775.1 L184.2 772.3 L186.8 769.6 L189.4 766.9 L191.9 764.2 L194.5 761.6 L197.1 758.9 L199.7 756.3 L202.3 753.7 L204.9 751.2 L207.5 748.7 L210.1 746.1 L212.7 743.6 L215.3 741.2 L217.9 738.7 L220.5 736.3 L223.1 733.9 L225.7 731.5 L228.3 729.2 L230.8 726.9 L233.4 724.6 L236 722.3 L238.6 720 L241.2 717.8 L243.8 715.5 L246.4 713.4 L249 711.2 L251.6 709 L254.2 706.9 L256.8 704.8 L259.4 702.7 L262 700.6 L264.6 698.6 L267.2 696.6 L269.7 694.6 L272.3 692.6 L274.9 690.6 L277.5 688.7 L280.1 686.8 L282.7 684.9 L285.3 683 L287.9 681.1 L290.5 679.3 L293.1 677.5 L295.7 675.7 L298.3 674 L300.9 672.2 L303.5 670.5 L306.1 668.8 L308.6 667.1 L311.2 665.5 L313.8 663.9 L316.4 662.3 L319 660.7 L321.6 659.1 L324.2 657.6 L326.8 656 L329.4 654.6 L332 653.1 L334.6 651.6 L337.2 650.2 L339.8 648.8 L342.4 647.4 L345 646 L347.5 644.7 L350.1 643.4 L352.7 642.1 L355.3 640.8 L357.9 639.5 L360.5 638.3 L363.1 637.1 L365.7 635.9 L368.3 634.7 L370.9 633.6 L373.5 632.4 L376.1 631.3 L378.7 630.2 L381.3 629.2 L383.9 628.1 L386.4 627.1 L389 626.1 L391.6 625.2 L394.2 624.2 L396.8 623.3 L399.4 622.4 L402 621.5 L404.6 620.7 L407.2 619.9 L409.8 619.1 L412.4 618.4 L415 617.6 L417.6 616.9 L420.2 616.2 L422.8 615.6 L425.3 615 L427.9 614.4 L430.5 613.8 L433.1 613.2 L435.7 612.7 L438.3 612.2 L440.9 611.7 L443.5 611.3 L446.1 610.8 L448.7 610.4 L451.3 610 L453.9 609.6 L456.5 609.3 L459.1 608.9 L461.7 608.6 L464.2 608.3 L466.8 608 L469.4 607.8 L472 607.5 L474.6 607.3 L477.2 607.1 L479.8 607 L482.4 606.8 L485 606.7 L487.6 606.6 L490.2 606.5 L492.8 606.5 L495.4 606.4 L498 606.4 L500.6 606.4 L503.1 606.5 L505.7 606.5 L508.3 606.6 L510.9 606.7 L513.5 606.9 L516.1 607 L518.7 607.2 L521.3 607.4 L523.9 607.6 L526.5 607.9 L529.1 608.1 L531.7 608.4 L534.3 608.7 L536.9 609.1 L539.5 609.4 L542 609.8 L544.6 610.2 L547.2 610.7 L549.8 611.1 L552.4 611.6 L555 612.1 L557.6 612.6 L560.2 613.2" stroke="#1e66dc" stroke-width="8" stroke-linecap="round" stroke-dasharray="0 7"/>
<path d="M93.4 884.6 L96 880.6 L98.6 876.8 L101.2 873.1 L103.8 869.4 L106.4 865.8 L109 862.3 L111.6 858.8 L114.1 855.3 L116.7 851.9 L119.3 848.5 L121.9 845.1 L124.5 841.8 L127.1 838.5 L129.7 835.2 L132.3 832 L134.9 828.7 L137.5 825.5 L140.1 822.4 L142.7 819.2 L145.3 816.1 L147.9 813 L150.5 810 L153 806.9 L155.6 803.9 L158.2 800.9 L160.8 797.9 L163.4 795 L166 792.1 L168.6 789.2 L171.2 786.3 L173.8 783.5 L176.4 780.6 L179 777.8 L181.6 775.1 L184.2 772.3 L186.8 769.6 L189.4 766.9 L191.9 764.2 L194.5 761.6 L197.1 758.9 L199.7 756.3 L202.3 753.7 L204.9 751.2 L207.5 748.7 L210.1 746.1 L212.7 743.6 L215.3 741.2 L217.9 738.7 L220.5 736.3 L223.1 733.9 L225.7 731.5 L228.3 729.2 L230.8 726.9 L233.4 724.6 L236 722.3 L238.6 720 L241.2 717.8 L243.8 715.5 L246.4 713.4 L249 711.2 L251.6 709 L254.2 706.9 L256.8 704.8 L259.4 702.7 L262 700.6 L264.6 698.6 L267.2 696.6 L269.7 694.6 L272.3 692.6 L274.9 690.6 L277.5 688.7 L280.1 686.8 L282.7 684.9 L285.3 683 L287.9 681.1 L290.5 679.3 L293.1 677.5 L295.7 675.7 L298.3 674 L300.9 672.2 L303.5 670.5 L306.1 668.8 L308.6 667.1 L311.2 665.5 L313.8 663.9 L316.4 662.3 L319 660.7 L321.6 659.1 L324.2 657.6 L326.8 656 L329.4 654.6 L332 653.1 L334.6 651.6 L337.2 650.2 L339.8 648.8 L342.4 647.4 L345 646 L347.5 644.7 L350.1 643.4 L352.7 642.1 L355.3 640.8 L357.9 639.5 L360.5 638.3 L363.1 637.1 L365.7 635.9 L368.3 634.7 L370.9 633.6 L373.5 632.4 L376.1 631.3 L378.7 630.2 L381.3 629.2 L383.9 628.1 L386.4 627.1 L389 626.1 L391.6 625.2 L394.2 624.2 L396.8 623.3 L399.4 622.4 L402 621.5 L404.6 620.7 L407.2 619.9 L409.8 619.1 L412.4 618.4 L415 617.6 L417.6 616.9 L420.2 616.2 L422.8 615.6 L425.3 615 L427.9 614.4 L430.5 613.8 L433.1 613.2 L435.7 612.7 L438.3 612.2 L440.9 611.7 L443.5 611.3 L446.1 610.8 L448.7 610.4 L451.3 610 L453.9 609.6 L456.5 609.3 L459.1 608.9 L461.7 608.6 L464.2 608.3 L466.8 608 L469.4 607.8 L472 607.5 L474.6 607.3 L477.2 607.1 L479.8 607 L482.4 606.8 L485 606.7 L487.6 606.6 L490.2 606.5 L492.8 606.5 L495.4 606.4 L498 606.4 L500.6 606.4 L503.1 606.5 L505.7 606.5 L508.3 606.6 L510.9 606.7 L513.5 606.9 L516.1 607 L518.7 607.2 L521.3 607.4 L523.9 607.6 L526.5 607.9 L529.1 608.1 L531.7 608.4 L534.3 608.7 L536.9 609.1 L539.5 609.4 L542 609.8 L544.6 610.2 L547.2 610.7 L549.8 611.1 L552.4 611.6 L555 612.1 L557.6 612.6 L560.2 613.2" stroke="#cfe0ff" stroke-width="2" stroke-linecap="round" stroke-dasharray="0 7" transform="translate(-0.8,-1)" opacity=".8"/>
<path d="M93.4 620.7 L96 653.7 L98.6 659.6 L101.2 662.7 L103.8 665 L106.4 667.3 L109 669.2 L111.6 670.9 L114.1 672.5 L116.7 674.1 L119.3 675.5 L121.9 676.9 L124.5 678.2 L127.1 679.4 L129.7 680.6 L132.3 681.8 L134.9 682.9 L137.5 683.9 L140.1 685 L142.7 686 L145.3 687.1 L147.9 688.1 L150.5 689 L153 690 L155.6 690.9 L158.2 691.8 L160.8 692.8 L163.4 693.7 L166 694.6 L168.6 695.5 L171.2 696.4 L173.8 697.3 L176.4 698.2 L179 699.1 L181.6 700 L184.2 701 L186.8 701.9 L189.4 702.8 L191.9 703.7 L194.5 704.6 L197.1 705.5 L199.7 706.5 L202.3 707.4 L204.9 708.4 L207.5 709.4 L210.1 710.3 L212.7 711.3 L215.3 712.3 L217.9 713.3 L220.5 714.3 L223.1 715.3 L225.7 716.3 L228.3 717.2 L230.8 718.2 L233.4 719.2 L236 720.1 L238.6 721.1 L241.2 722 L243.8 723 L246.4 723.9 L249 724.8 L251.6 725.6 L254.2 726.5 L256.8 727.3 L259.4 728.1 L262 729 L264.6 729.8 L267.2 730.6 L269.7 731.4 L272.3 732.2 L274.9 732.9 L277.5 733.7 L280.1 734.5 L282.7 735.3 L285.3 736.1 L287.9 736.9 L290.5 737.7 L293.1 738.5 L295.7 739.3 L298.3 740.1 L300.9 741 L303.5 741.8 L306.1 742.7 L308.6 743.5 L311.2 744.4 L313.8 745.3 L316.4 746.2 L319 747.1 L321.6 747.9 L324.2 748.8 L326.8 749.7 L329.4 750.6 L332 751.5 L334.6 752.4 L337.2 753.3 L339.8 754.2 L342.4 755.1 L345 756 L347.5 756.9 L350.1 757.8 L352.7 758.7 L355.3 759.6 L357.9 760.4 L360.5 761.3 L363.1 762.2 L365.7 763.1 L368.3 763.9 L370.9 764.8 L373.5 765.7 L376.1 766.6 L378.7 767.4 L381.3 768.3 L383.9 769.2 L386.4 770.1 L389 770.9 L391.6 771.8 L394.2 772.7 L396.8 773.6 L399.4 774.4 L402 775.3 L404.6 776.2 L407.2 777.1 L409.8 778 L412.4 778.9 L415 779.8 L417.6 780.7 L420.2 781.6 L422.8 782.5 L425.3 783.4 L427.9 784.3 L430.5 785.2 L433.1 786.1 L435.7 787 L438.3 787.9 L440.9 788.8 L443.5 789.7 L446.1 790.6 L448.7 791.5 L451.3 792.3 L453.9 793.2 L456.5 794.1 L459.1 795 L461.7 795.9 L464.2 796.8 L466.8 797.7 L469.4 798.5 L472 799.4 L474.6 800.3 L477.2 801.2 L479.8 802.1 L482.4 802.9 L485 803.8 L487.6 804.7 L490.2 805.6 L492.8 806.4 L495.4 807.3 L498 808.2 L500.6 809 L503.1 809.9 L505.7 810.8 L508.3 811.7" stroke="#4adfb0" stroke-width="8"/>
<path d="M93.4 620.7 L96 653.7 L98.6 659.6 L101.2 662.7 L103.8 665 L106.4 667.3 L109 669.2 L111.6 670.9 L114.1 672.5 L116.7 674.1 L119.3 675.5 L121.9 676.9 L124.5 678.2 L127.1 679.4 L129.7 680.6 L132.3 681.8 L134.9 682.9 L137.5 683.9 L140.1 685 L142.7 686 L145.3 687.1 L147.9 688.1 L150.5 689 L153 690 L155.6 690.9 L158.2 691.8 L160.8 692.8 L163.4 693.7 L166 694.6 L168.6 695.5 L171.2 696.4 L173.8 697.3 L176.4 698.2 L179 699.1 L181.6 700 L184.2 701 L186.8 701.9 L189.4 702.8 L191.9 703.7 L194.5 704.6 L197.1 705.5 L199.7 706.5 L202.3 707.4 L204.9 708.4 L207.5 709.4 L210.1 710.3 L212.7 711.3 L215.3 712.3 L217.9 713.3 L220.5 714.3 L223.1 715.3 L225.7 716.3 L228.3 717.2 L230.8 718.2 L233.4 719.2 L236 720.1 L238.6 721.1 L241.2 722 L243.8 723 L246.4 723.9 L249 724.8 L251.6 725.6 L254.2 726.5 L256.8 727.3 L259.4 728.1 L262 729 L264.6 729.8 L267.2 730.6 L269.7 731.4 L272.3 732.2 L274.9 732.9 L277.5 733.7 L280.1 734.5 L282.7 735.3 L285.3 736.1 L287.9 736.9 L290.5 737.7 L293.1 738.5 L295.7 739.3 L298.3 740.1 L300.9 741 L303.5 741.8 L306.1 742.7 L308.6 743.5 L311.2 744.4 L313.8 745.3 L316.4 746.2 L319 747.1 L321.6 747.9 L324.2 748.8 L326.8 749.7 L329.4 750.6 L332 751.5 L334.6 752.4 L337.2 753.3 L339.8 754.2 L342.4 755.1 L345 756 L347.5 756.9 L350.1 757.8 L352.7 758.7 L355.3 759.6 L357.9 760.4 L360.5 761.3 L363.1 762.2 L365.7 763.1 L368.3 763.9 L370.9 764.8 L373.5 765.7 L376.1 766.6 L378.7 767.4 L381.3 768.3 L383.9 769.2 L386.4 770.1 L389 770.9 L391.6 771.8 L394.2 772.7 L396.8 773.6 L399.4 774.4 L402 775.3 L404.6 776.2 L407.2 777.1 L409.8 778 L412.4 778.9 L415 779.8 L417.6 780.7 L420.2 781.6 L422.8 782.5 L425.3 783.4 L427.9 784.3 L430.5 785.2 L433.1 786.1 L435.7 787 L438.3 787.9 L440.9 788.8 L443.5 789.7 L446.1 790.6 L448.7 791.5 L451.3 792.3 L453.9 793.2 L456.5 794.1 L459.1 795 L461.7 795.9 L464.2 796.8 L466.8 797.7 L469.4 798.5 L472 799.4 L474.6 800.3 L477.2 801.2 L479.8 802.1 L482.4 802.9 L485 803.8 L487.6 804.7 L490.2 805.6 L492.8 806.4 L495.4 807.3 L498 808.2 L500.6 809 L503.1 809.9 L505.7 810.8 L508.3 811.7" stroke="#d8fff0" stroke-width="1.6" stroke-linecap="round" stroke-dasharray="0 4" transform="translate(-0.6,-0.8)" opacity=".8"/>
<path d="M93.4 884.6 L96 880.8 L98.6 877.1 L101.2 873.5 L103.8 870 L106.4 866.5 L109 863.1 L111.6 859.7 L114.1 856.3 L116.7 853 L119.3 849.8 L121.9 846.5 L124.5 843.3 L127.1 840.1 L129.7 837 L132.3 833.9 L134.9 830.8 L137.5 827.7 L140.1 824.7 L142.7 821.7 L145.3 818.8 L147.9 815.8 L150.5 812.9 L153 810 L155.6 807.1 L158.2 804.3 L160.8 801.5 L163.4 798.7 L166 795.9 L168.6 793.2 L171.2 790.5 L173.8 787.8 L176.4 785.2 L179 782.6 L181.6 780 L184.2 777.5 L186.8 775 L189.4 772.5 L191.9 770 L194.5 767.6 L197.1 765.2 L199.7 762.9 L202.3 760.6 L204.9 758.3 L207.5 756.1 L210.1 753.9 L212.7 751.7 L215.3 749.6 L217.9 747.6 L220.5 745.5 L223.1 743.5 L225.7 741.5 L228.3 739.6 L230.8 737.6 L233.4 735.7 L236 733.9 L238.6 732 L241.2 730.2 L243.8 728.3 L246.4 726.5 L249 724.8 L251.6 723 L254.2 721.2 L256.8 719.5 L259.4 717.7 L262 716 L264.6 714.3 L267.2 712.6 L269.7 710.9 L272.3 709.3 L274.9 707.7 L277.5 706.1 L280.1 704.5 L282.7 702.9 L285.3 701.4 L287.9 699.9 L290.5 698.5 L293.1 697.1 L295.7 695.7 L298.3 694.4 L300.9 693.1 L303.5 691.8 L306.1 690.6 L308.6 689.5 L311.2 688.3 L313.8 687.2 L316.4 686.2 L319 685.2 L321.6 684.2 L324.2 683.2 L326.8 682.3 L329.4 681.4 L332 680.6 L334.6 679.7 L337.2 678.9 L339.8 678.2 L342.4 677.4 L345 676.7 L347.5 676 L350.1 675.4 L352.7 674.7 L355.3 674.1 L357.9 673.5 L360.5 673 L363.1 672.4 L365.7 671.9 L368.3 671.4 L370.9 671 L373.5 670.6 L376.1 670.2 L378.7 669.8 L381.3 669.5 L383.9 669.2 L386.4 668.9 L389 668.6 L391.6 668.4 L394.2 668.2 L396.8 668.1 L399.4 668 L402 667.9 L404.6 667.8 L407.2 667.8 L409.8 667.8 L412.4 667.9 L415 668 L417.6 668.1 L420.2 668.2 L422.8 668.4 L425.3 668.6 L427.9 668.9 L430.5 669.2 L433.1 669.5 L435.7 669.8 L438.3 670.2 L440.9 670.6 L443.5 671 L446.1 671.4 L448.7 671.9 L451.3 672.4 L453.9 672.9 L456.5 673.5 L459.1 674.1 L461.7 674.7 L464.2 675.3 L466.8 675.9 L469.4 676.6 L472 677.3 L474.6 678.1 L477.2 678.8 L479.8 679.6 L482.4 680.4 L485 681.3 L487.6 682.1 L490.2 683 L492.8 684 L495.4 684.9 L498 685.9 L500.6 686.9 L503.1 687.9 L505.7 689 L508.3 690.1" stroke="#4adfb0" stroke-width="8"/>
<path d="M93.4 884.6 L96 880.8 L98.6 877.1 L101.2 873.5 L103.8 870 L106.4 866.5 L109 863.1 L111.6 859.7 L114.1 856.3 L116.7 853 L119.3 849.8 L121.9 846.5 L124.5 843.3 L127.1 840.1 L129.7 837 L132.3 833.9 L134.9 830.8 L137.5 827.7 L140.1 824.7 L142.7 821.7 L145.3 818.8 L147.9 815.8 L150.5 812.9 L153 810 L155.6 807.1 L158.2 804.3 L160.8 801.5 L163.4 798.7 L166 795.9 L168.6 793.2 L171.2 790.5 L173.8 787.8 L176.4 785.2 L179 782.6 L181.6 780 L184.2 777.5 L186.8 775 L189.4 772.5 L191.9 770 L194.5 767.6 L197.1 765.2 L199.7 762.9 L202.3 760.6 L204.9 758.3 L207.5 756.1 L210.1 753.9 L212.7 751.7 L215.3 749.6 L217.9 747.6 L220.5 745.5 L223.1 743.5 L225.7 741.5 L228.3 739.6 L230.8 737.6 L233.4 735.7 L236 733.9 L238.6 732 L241.2 730.2 L243.8 728.3 L246.4 726.5 L249 724.8 L251.6 723 L254.2 721.2 L256.8 719.5 L259.4 717.7 L262 716 L264.6 714.3 L267.2 712.6 L269.7 710.9 L272.3 709.3 L274.9 707.7 L277.5 706.1 L280.1 704.5 L282.7 702.9 L285.3 701.4 L287.9 699.9 L290.5 698.5 L293.1 697.1 L295.7 695.7 L298.3 694.4 L300.9 693.1 L303.5 691.8 L306.1 690.6 L308.6 689.5 L311.2 688.3 L313.8 687.2 L316.4 686.2 L319 685.2 L321.6 684.2 L324.2 683.2 L326.8 682.3 L329.4 681.4 L332 680.6 L334.6 679.7 L337.2 678.9 L339.8 678.2 L342.4 677.4 L345 676.7 L347.5 676 L350.1 675.4 L352.7 674.7 L355.3 674.1 L357.9 673.5 L360.5 673 L363.1 672.4 L365.7 671.9 L368.3 671.4 L370.9 671 L373.5 670.6 L376.1 670.2 L378.7 669.8 L381.3 669.5 L383.9 669.2 L386.4 668.9 L389 668.6 L391.6 668.4 L394.2 668.2 L396.8 668.1 L399.4 668 L402 667.9 L404.6 667.8 L407.2 667.8 L409.8 667.8 L412.4 667.9 L415 668 L417.6 668.1 L420.2 668.2 L422.8 668.4 L425.3 668.6 L427.9 668.9 L430.5 669.2 L433.1 669.5 L435.7 669.8 L438.3 670.2 L440.9 670.6 L443.5 671 L446.1 671.4 L448.7 671.9 L451.3 672.4 L453.9 672.9 L456.5 673.5 L459.1 674.1 L461.7 674.7 L464.2 675.3 L466.8 675.9 L469.4 676.6 L472 677.3 L474.6 678.1 L477.2 678.8 L479.8 679.6 L482.4 680.4 L485 681.3 L487.6 682.1 L490.2 683 L492.8 684 L495.4 684.9 L498 685.9 L500.6 686.9 L503.1 687.9 L505.7 689 L508.3 690.1" stroke="#d8fff0" stroke-width="1.6" stroke-linecap="round" stroke-dasharray="0 4" transform="translate(-0.6,-0.8)" opacity=".8"/>
</g>
<circle cx="508.3" cy="811.7" r="4.6" fill="#4adfb0"/><circle cx="508.3" cy="690.1" r="4.6" fill="#4adfb0"/>
<rect x="93.4" y="507.6" width="466.8" height="377" fill="none" stroke="#000" stroke-width="2.2"/>
<path d="M93.4 884.6h6.5M93.4 865.8h3.5M93.4 846.9h6.5M93.4 828.1h3.5M93.4 809.2h6.5M93.4 790.4h3.5M93.4 771.5h6.5M93.4 752.7h3.5M93.4 733.8h6.5M93.4 715h3.5M93.4 696.1h6.5M93.4 677.2h3.5M93.4 658.4h6.5M93.4 639.5h3.5M93.4 620.7h6.5M93.4 601.9h3.5M93.4 583h6.5M93.4 564.2h3.5M93.4 545.3h6.5M93.4 526.5h3.5M93.4 507.6h6.5M560.2 884.6h-6.5M560.2 853.2h-3.5M560.2 821.8h-6.5M560.2 790.4h-3.5M560.2 758.9h-6.5M560.2 727.5h-3.5M560.2 696.1h-6.5M560.2 664.7h-3.5M560.2 633.3h-6.5M560.2 601.9h-3.5M560.2 570.4h-6.5M560.2 539h-3.5M560.2 507.6h-6.5M93.4 884.6v-6.5M119.3 884.6v-3.5M145.3 884.6v-6.5M171.2 884.6v-3.5M197.1 884.6v-6.5M223.1 884.6v-3.5M249 884.6v-6.5M274.9 884.6v-3.5M300.9 884.6v-6.5M326.8 884.6v-3.5M352.7 884.6v-6.5M378.7 884.6v-3.5M404.6 884.6v-6.5M430.5 884.6v-3.5M456.5 884.6v-6.5M482.4 884.6v-3.5M508.3 884.6v-6.5M534.3 884.6v-3.5M560.2 884.6v-6.5" stroke="#000" stroke-width="2" fill="none"/>
<text x="84.6" y="892.7" text-anchor="end" class="tk">0.0</text>
<text x="84.6" y="855" text-anchor="end" class="tk">0.2</text>
<text x="84.6" y="817.3" text-anchor="end" class="tk">0.4</text>
<text x="84.6" y="779.6" text-anchor="end" class="tk">0.6</text>
<text x="84.6" y="741.9" text-anchor="end" class="tk">0.8</text>
<text x="84.6" y="704.2" text-anchor="end" class="tk">1.0</text>
<text x="84.6" y="666.5" text-anchor="end" class="tk">1.2</text>
<text x="84.6" y="628.8" text-anchor="end" class="tk">1.4</text>
<text x="84.6" y="591.1" text-anchor="end" class="tk">1.6</text>
<text x="84.6" y="553.4" text-anchor="end" class="tk">1.8</text>
<text x="84.6" y="515.7" text-anchor="end" class="tk">2.0</text>
<text x="567" y="892.6" class="tk">0</text>
<text x="567" y="829.8" class="tk">5</text>
<text x="567" y="766.9" class="tk">10</text>
<text x="567" y="704.1" class="tk">15</text>
<text x="567" y="641.3" class="tk">20</text>
<text x="567" y="578.4" class="tk">25</text>
<text x="567" y="515.6" class="tk">30</text>
<text x="92.4" y="913.4" text-anchor="middle" class="tk">0</text>
<text x="144.3" y="913.4" text-anchor="middle" class="tk">5</text>
<text x="196.1" y="913.4" text-anchor="middle" class="tk">10</text>
<text x="248" y="913.4" text-anchor="middle" class="tk">15</text>
<text x="299.9" y="913.4" text-anchor="middle" class="tk">20</text>
<text x="351.7" y="913.4" text-anchor="middle" class="tk">25</text>
<text x="403.6" y="913.4" text-anchor="middle" class="tk">30</text>
<text x="455.5" y="913.4" text-anchor="middle" class="tk">35</text>
<text x="507.3" y="913.4" text-anchor="middle" class="tk">40</text>
<text x="559.2" y="913.4" text-anchor="middle" class="tk">45</text>
<text x="163.4" y="947.2" class="ti" textLength="317.5" lengthAdjust="spacingAndGlyphs">Current density (mA cm<tspan font-size="19.5" dy="-10.5">-2</tspan><tspan dy="10.5">)</tspan></text>
<text transform="translate(30.3,695.8) rotate(-90)" text-anchor="middle" class="ti">Voltage (V)</text>
<text transform="translate(630.4,691.7) rotate(-90)" text-anchor="middle" class="ti">Power density (mW cm<tspan font-size="19.5" dy="-10.5">-2</tspan><tspan dy="10.5">)</tspan></text>
<path d="M105 529.6H113.3M124.3 529.6H133" stroke="#1e66dc" stroke-width="1.4"/><circle cx="118.8" cy="529.6" r="4.3" fill="#1e66dc"/><circle cx="117.8" cy="528.4" r="1.2" fill="#cfe0ff"/>
<path d="M105 569.9H113.3M124.3 569.9H133" stroke="#4adfb0" stroke-width="1.4"/><circle cx="118.8" cy="569.9" r="4.3" fill="#4adfb0"/><circle cx="117.8" cy="568.7" r="1.2" fill="#e0fff4"/>
<text x="140.6" y="533.5" class="tk" style="font-size:28px" textLength="292" lengthAdjust="spacingAndGlyphs">3%-Ru<tspan font-size="18.5" dy="6">CS/SA</tspan><tspan dy="-6">/α-MoC</tspan><tspan font-size="18.5" dy="6">1-x</tspan><tspan dy="-6">/C</tspan></text>
<text x="140.6" y="573.6" class="tk" style="font-size:28px" textLength="117.8" lengthAdjust="spacingAndGlyphs">20% Pt/C</text>
</g>
<!-- d -->
<g id="pd">
<path d="M726.8 581 L727.2 597.6 L760 598.4 L900 602 L1040 605.5 L1065.2 606.2 L1092.8 607.3 L1115.5 608.9 L1128 611.1 L1140.6 615.2 L1149.4 620 L1157 627.8 L1162.6 637.9 L1166.4 650.4 L1167.3 668 L1168.1 674.3 L1168.1 883" stroke="#1e66dc" stroke-width="3.8" fill="none" stroke-linejoin="round"/>
<path d="M726.8 583 L727.2 601.3 L760 601.9 L900 605.4 L1040 608.7 L1065.2 610.6 L1081.5 613 L1094.1 616.5 L1101.6 620.3 L1105.4 624 L1110.4 634.1 L1114.2 640.4 L1117 646.7 L1118 650.4 L1118 883" stroke="#4adfb0" stroke-width="3.8" fill="none" stroke-linejoin="round"/>
<path d="M1106.7 622.1 L1112.3 620.3 L1112.7 632.8 L1106.7 630.3Z" fill="#4adfb0"/>
<rect x="726.5" y="508.9" width="465.9" height="374.1" fill="none" stroke="#222" stroke-width="1.2"/>
<path d="M726.5 883h6.5M726.5 845.6h3.5M726.5 808.2h6.5M726.5 770.8h3.5M726.5 733.4h6.5M726.5 696h3.5M726.5 658.5h6.5M726.5 621.1h3.5M726.5 583.7h6.5M726.5 546.3h3.5M726.5 508.9h6.5M726.5 883.0v-6.5M784.7 883.0v-3.5M843 883.0v-6.5M901.2 883.0v-3.5M959.5 883.0v-6.5M1017.7 883.0v-3.5M1075.9 883.0v-6.5M1134.2 883.0v-3.5M1192.4 883.0v-6.5" stroke="#222" stroke-width="1.2" fill="none"/>
<text x="718" y="891" text-anchor="end" class="tk" style="font-size:27.5px">0.0</text>
<text x="718" y="816.2" text-anchor="end" class="tk" style="font-size:27.5px">0.3</text>
<text x="718" y="741.4" text-anchor="end" class="tk" style="font-size:27.5px">0.6</text>
<text x="718" y="666.5" text-anchor="end" class="tk" style="font-size:27.5px">0.9</text>
<text x="718" y="591.7" text-anchor="end" class="tk" style="font-size:27.5px">1.2</text>
<text x="718" y="516.9" text-anchor="end" class="tk" style="font-size:27.5px">1.5</text>
<text x="726.5" y="912.9" text-anchor="middle" class="tk" style="font-size:28px">0</text>
<text x="843" y="912.9" text-anchor="middle" class="tk" style="font-size:28px">200</text>
<text x="959.5" y="912.9" text-anchor="middle" class="tk" style="font-size:28px">400</text>
<text x="1075.9" y="912.9" text-anchor="middle" class="tk" style="font-size:28px">600</text>
<text x="1192.4" y="912.9" text-anchor="middle" class="tk" style="font-size:28px">800</text>
<text x="791.8" y="943" class="tk" style="font-size:27px" textLength="334.5" lengthAdjust="spacingAndGlyphs">Specific capacity (mAh g<tspan font-size="18.5" dy="-11.5">-1</tspan><tspan dy="11.5" font-size="19">)</tspan></text>
<text transform="translate(661.8,688.7) rotate(-90)" text-anchor="middle" class="ti">Voltage (V)</text>
<path d="M746.6 540.4H777.3" stroke="#1e66dc" stroke-width="4.2"/><path d="M746.6 581.9H777.3" stroke="#4adfb0" stroke-width="4.2"/>
<text x="783.2" y="544.4" class="tk" style="font-size:28px" textLength="292" lengthAdjust="spacingAndGlyphs">3%-Ru<tspan font-size="18.5" dy="6">CS/SA</tspan><tspan dy="-6">/α-MoC</tspan><tspan font-size="18.5" dy="6">1-x</tspan><tspan dy="-6">/C</tspan></text>
<text x="783.2" y="584.6" class="tk" style="font-size:28px" textLength="117.8" lengthAdjust="spacingAndGlyphs">20% Pt/C</text>
</g>
<!-- e_photo -->
<g id="ephoto">
<clipPath id="eclip"><rect x="1277.3" y="491.8" width="514.4" height="424.7"/></clipPath>
<defs>
<linearGradient id="wall" x1="0" x2="1" y1="0" y2="1"><stop offset="0" stop-color="#d3d3d2"/><stop offset=".5" stop-color="#dddddb"/><stop offset="1" stop-color="#e2e2e0"/></linearGradient>
<linearGradient id="tbl" x1="0" x2="0" y1="0" y2="1"><stop offset="0" stop-color="#323337"/><stop offset=".35" stop-color="#3b3c41"/><stop offset=".75" stop-color="#3a3b40"/><stop offset="1" stop-color="#2c2d31"/></linearGradient>
<linearGradient id="glowv" x1="0" x2="0" y1="0" y2="1"><stop offset="0" stop-color="#ff1c34"/><stop offset=".45" stop-color="#f0152c"/><stop offset="1" stop-color="#a81224"/></linearGradient>
<filter id="blur6" x="-20%" y="-20%" width="140%" height="140%"><feGaussianBlur stdDeviation="6"/></filter>
<filter id="blur14" x="-30%" y="-30%" width="160%" height="160%"><feGaussianBlur stdDeviation="14"/></filter>
<filter id="blur1"><feGaussianBlur stdDeviation="0.7"/></filter>
<radialGradient id="sheen" cx="50%" cy="50%" r="50%"><stop offset="0" stop-color="#686a72" stop-opacity=".85"/><stop offset="1" stop-color="#4a4c52" stop-opacity="0"/></radialGradient>
<pattern id="led" x="1340.4" y="761.4" width="5.5" height="6.15" patternUnits="userSpaceOnUse"><ellipse cx="2.75" cy="3.07" rx="1.62" ry="3.25" transform="rotate(42 2.75 3.07)" fill="#f8f8f8"/></pattern>
<pattern id="ydots" x="0" y="0" width="2.2" height="2.6" patternUnits="userSpaceOnUse"><circle cx="1.1" cy="1.3" r=".8" fill="#ffb638"/></pattern>
<radialGradient id="hole" cx="50%" cy="45%" r="50%"><stop offset="0" stop-color="#2a2b2e"/><stop offset=".8" stop-color="#1c1d20"/><stop offset="1" stop-color="#111214"/></radialGradient>
</defs>
<g clip-path="url(#eclip)">
<rect x="1277.3" y="491.8" width="514.4" height="424.7" fill="url(#wall)"/>
<polygon points="1277,691.8 1792,702 1792,917 1277,917" fill="url(#tbl)"/>
<polygon points="1277,690 1792,700 1792,703.5 1277,693.7" fill="#9a9c9f" opacity=".75"/>
<ellipse cx="1690" cy="775" rx="175" ry="105" fill="url(#sheen)"/>
<ellipse cx="1320" cy="860" rx="85" ry="80" fill="url(#sheen)" opacity=".6"/>
<ellipse cx="1345" cy="880" rx="60" ry="50" fill="#7a4a52" opacity=".35" filter="url(#blur14)"/>
<ellipse cx="1600" cy="880" rx="70" ry="45" fill="url(#sheen)" opacity=".6"/>
<ellipse cx="1300" cy="706" rx="22" ry="5" fill="#1d1e21" opacity=".8"/><ellipse cx="1755" cy="716" rx="40" ry="6" fill="#1d1e21" opacity=".7"/>
<ellipse cx="1470" cy="838" rx="150" ry="10" fill="#8a8c90" opacity=".35" filter="url(#blur6)"/>
<rect x="1352" y="822" width="218" height="120" fill="#8a1020" opacity=".55" filter="url(#blur14)"/>
<rect x="1374" y="834" width="172" height="100" fill="url(#glowv)" filter="url(#blur6)"/>
<ellipse cx="1440" cy="858" rx="52" ry="24" fill="#ff2038" opacity=".8" filter="url(#blur6)"/>
<rect x="1497" y="836" width="52" height="84" fill="#7a0c1c" opacity=".35" filter="url(#blur6)"/>
<path d="M1507.5 840 H1541.5 V868 H1529 V845 H1516 V862 H1507.5Z" fill="url(#ydots)" opacity=".9"/>
<rect x="1468" y="846" width="8" height="22" fill="url(#ydots)" opacity=".5"/>
<path d="M1497.4 829 L1491.5 917" stroke="#0c0c0e" stroke-width="4.2"/>
<path d="M1492 890 C1505 893 1530 900 1545 905" fill="none" stroke="#e8b0b0" stroke-width=".8" opacity=".7"/>
<rect x="1363.9" y="659.6" width="87.6" height="89.7" fill="#cdd5df"/><rect x="1451.5" y="657.7" width="89.6" height="91.6" fill="#d0d7e0"/><rect x="1541.1" y="659.6" width="92.6" height="89.7" fill="#cbd3dd"/>
<rect x="1363.9" y="659.6" width="269.8" height="9" fill="#e6e8e8" opacity=".9"/><rect x="1363.9" y="741" width="269.8" height="8.3" fill="#dfe2e4"/>
<polygon points="1386,664 1436,664 1449,680 1449,728 1436,744 1386,744 1368,728 1368,680" fill="#a9b9cf"/>
<polygon points="1472,663 1524,663 1539,680 1539,728 1524,745 1472,745 1455,728 1455,680" fill="#aebdd1"/>
<polygon points="1562,665 1614,665 1630,682 1630,730 1614,746 1562,746 1546,730 1546,682" fill="#a6b6cc"/>
<rect x="1449.5" y="659" width="4" height="90" fill="#eceeee"/><rect x="1539.5" y="659" width="4.5" height="90" fill="#e6e8e8"/><rect x="1541.6" y="684" width="2.4" height="60" fill="#2a2b2e"/>
<circle cx="1411.7" cy="701.5" r="30" fill="#9aa1aa"/><circle cx="1411.7" cy="703.0" r="29" fill="#c3c8ce"/><circle cx="1411.7" cy="701.0" r="26.5" fill="#3a3c41"/><circle cx="1411.7" cy="700.5" r="23.5" fill="url(#hole)"/>
<circle cx="1497.3" cy="702.5" r="31" fill="#9aa1aa"/><circle cx="1497.3" cy="704.0" r="30" fill="#c3c8ce"/><circle cx="1497.3" cy="702.0" r="27.5" fill="#3a3c41"/><circle cx="1497.3" cy="701.5" r="24.5" fill="url(#hole)"/>
<circle cx="1586.9" cy="703.5" r="30.5" fill="#9aa1aa"/><circle cx="1586.9" cy="705.0" r="29.5" fill="#c3c8ce"/><circle cx="1586.9" cy="703.0" r="27.0" fill="#3a3c41"/><circle cx="1586.9" cy="702.5" r="24.0" fill="url(#hole)"/>
<circle cx="1369.9" cy="667.6" r="5.6" fill="#b9bcc0" stroke="#7d8084" stroke-width=".9"/><path d="M1366.9 667.6h6M1369.9 664.6v6" stroke="#4e5054" stroke-width="1.3"/>
<circle cx="1443.5" cy="670.6" r="5.6" fill="#b9bcc0" stroke="#7d8084" stroke-width=".9"/><path d="M1440.5 670.6h6M1443.5 667.6v6" stroke="#4e5054" stroke-width="1.3"/>
<circle cx="1461.5" cy="671.6" r="5.6" fill="#b9bcc0" stroke="#7d8084" stroke-width=".9"/><path d="M1458.5 671.6h6M1461.5 668.6v6" stroke="#4e5054" stroke-width="1.3"/>
<circle cx="1532.2" cy="671.6" r="5.6" fill="#b9bcc0" stroke="#7d8084" stroke-width=".9"/><path d="M1529.2 671.6h6M1532.2 668.6v6" stroke="#4e5054" stroke-width="1.3"/>
<circle cx="1557" cy="672.6" r="5.6" fill="#b9bcc0" stroke="#7d8084" stroke-width=".9"/><path d="M1554 672.6h6M1557 669.6v6" stroke="#4e5054" stroke-width="1.3"/>
<circle cx="1625.7" cy="674.6" r="5.6" fill="#b9bcc0" stroke="#7d8084" stroke-width=".9"/><path d="M1622.7 674.6h6M1625.7 671.6v6" stroke="#4e5054" stroke-width="1.3"/>
<circle cx="1374.8" cy="739.3" r="5.6" fill="#b9bcc0" stroke="#7d8084" stroke-width=".9"/><path d="M1371.8 739.3h6M1374.8 736.3v6" stroke="#4e5054" stroke-width="1.3"/>
<circle cx="1445.5" cy="739.3" r="5.6" fill="#b9bcc0" stroke="#7d8084" stroke-width=".9"/><path d="M1442.5 739.3h6M1445.5 736.3v6" stroke="#4e5054" stroke-width="1.3"/>
<circle cx="1462.5" cy="740.3" r="5.6" fill="#b9bcc0" stroke="#7d8084" stroke-width=".9"/><path d="M1459.5 740.3h6M1462.5 737.3v6" stroke="#4e5054" stroke-width="1.3"/>
<circle cx="1531.2" cy="740.3" r="5.6" fill="#b9bcc0" stroke="#7d8084" stroke-width=".9"/><path d="M1528.2 740.3h6M1531.2 737.3v6" stroke="#4e5054" stroke-width="1.3"/>
<circle cx="1619.8" cy="743.3" r="5.6" fill="#b9bcc0" stroke="#7d8084" stroke-width=".9"/><path d="M1616.8 743.3h6M1619.8 740.3v6" stroke="#4e5054" stroke-width="1.3"/>
<polygon points="1392,656 1436,653 1438,661 1389,662" fill="#1b1c1e"/>
<path d="M1417 628 L1431 626 L1433.6 659 L1418 659Z" fill="#1d1e20"/><rect x="1428" y="648" width="6" height="10" fill="#c9c9c9"/>
<rect x="1488.3" y="639.7" width="17" height="12" fill="#ecece9"/><polygon points="1490,649.7 1511,648 1517.2,659.6 1483.4,659.6" fill="#1a1b1d"/>
<path d="M1507 638 L1514 620" stroke="#1c1d1f" stroke-width="8" stroke-linecap="round"/>
<rect x="1576" y="639.7" width="18.9" height="15" fill="#efefec"/><polygon points="1567,657 1594,655.5 1596.9,663.6 1565,663.6" fill="#1a1b1d"/>
<path d="M1590 638 L1589 622" stroke="#1c1d1f" stroke-width="7.5" stroke-linecap="round"/>
<path d="M1423.6 627.8 C1405 632 1390 648 1379.8 659.6 C1362 682 1348 700 1340 715.4 C1332 732 1333 741 1342 737.3 C1360 730 1376 726 1389.8 723.4 C1408 720 1424 716 1437 711" fill="none" stroke="#131315" stroke-width="2.6"/>
<path d="M1514 618 C1522 608 1538 606 1547 618 C1554 632 1551 646 1541 647.3 C1531 646 1528 628 1532 612 C1536 600 1546 594 1555 593.9 C1570 594 1584 606 1588.9 621" fill="none" stroke="#2a2b2d" stroke-width="1.8"/>
<path d="M1437.4 597 C1438.0 596.6 1438.9 597.5 1441 594.8 C1443.1 592.0 1444.9 585.2 1449.9 580.5 C1455.0 575.8 1463.0 570.8 1471.3 566.3 C1479.6 561.8 1491.5 558.5 1499.8 553.8 C1508.1 549.0 1514.7 544.0 1521.2 537.8 C1527.7 531.6 1533.4 521.4 1539 516.4 C1544.6 511.3 1550.5 508.1 1555 507.5 C1559.5 506.9 1563.8 508.9 1565.7 512.8 C1567.6 516.6 1567.5 522.3 1566.6 530.6 C1565.7 538.9 1563.2 552.0 1560.4 562.7 C1557.6 573.4 1553.9 584.7 1549.7 594.8 C1545.5 604.9 1538.4 617.7 1535.4 623.3 C1532.4 628.9 1532.4 627.7 1531.8 628.6" fill="none" stroke="#cc1f1c" stroke-width="2.1"/>
<path d="M1437.4 597 L1440 612 L1436 646 L1431 646 L1432 612 Z" fill="#d8241c" stroke="#d8241c" stroke-width="2" stroke-linejoin="round"/>
<path d="M1531 629.5 L1508 654.5" stroke="#dc281e" stroke-width="6.5" stroke-linecap="round"/>
<path d="M1601 656 L1630 650.5 L1656 650 L1656.5 654.5 L1634 658.5 L1603 664.5Z" fill="#e02a20" stroke="#e02a20" stroke-width="2" stroke-linejoin="round"/>
<path d="M1654 652.3 C1659.5 652.0 1676.7 649.9 1686.9 650.3 C1697.1 650.7 1707.1 652.0 1715.4 654.7 C1723.7 657.4 1730.3 661.1 1736.8 666.3 C1743.3 671.5 1749.9 678.8 1754.6 685.9 C1759.3 693.0 1762.7 701.7 1765.2 709.1 C1767.7 716.5 1769.2 723.3 1769.7 730.4 C1770.2 737.5 1768.9 745.7 1767.9 751.8 C1766.9 757.9 1764.2 764.5 1763.5 767" fill="none" stroke="#d8201e" stroke-width="2.5"/><path d="M1763.5 767 C1762.6 765.6 1762.0 763.2 1758.1 758.9 C1754.2 754.6 1747.4 747.0 1740.3 741.1 C1733.2 735.2 1723.7 728.2 1715.4 723.3 C1707.1 718.4 1698.7 714.1 1690.4 711.7 C1682.1 709.3 1674.4 708.7 1665.5 709.1 C1656.6 709.5 1645.9 712.0 1637 714.4 C1628.1 716.8 1618.6 720.9 1612.1 723.3 C1605.6 725.7 1600.2 727.8 1597.8 728.7" fill="none" stroke="#de2a2a" stroke-width="3"/>
<path d="M1597 727.5 L1527 753.5" stroke="#e43024" stroke-width="12" stroke-linecap="round"/><path d="M1583 734.5 L1540 750" stroke="#f8e0da" stroke-width="1.6"/>
<path d="M1437 712 L1434 735" stroke="#1a1b1d" stroke-width="3"/><path d="M1438 732 L1426 756" stroke="#232427" stroke-width="10" stroke-linecap="round"/>
<ellipse cx="1477.4" cy="755" rx="36" ry="6.5" fill="#e6e6e6"/>
<rect x="1334.3" y="756.4" width="254.9" height="72.2" rx="1.5" fill="#1c7e40"/>
<rect x="1334.3" y="824.5" width="254.9" height="4.1" fill="#15602f"/>
<rect x="1339.6" y="760.4" width="243.6" height="63.3" fill="#0e100f"/>
<rect x="1371" y="762.5" width="180" height="60" fill="#b3141c" filter="url(#blur1)"/>
<path d="M1382 766 h14.5 v25.5 h-14.5z M1415 764 h7 v13 h-7z M1454 782.6 h5.5 v38 h-5.5z M1526 764 h6.5 v27 h-6.5z M1402 800 h10 v12 h-10z M1436 770 h8 v10 h-8z M1478 764 h6 v16 h-6z M1496 796 h9 v16 h-9z M1468 806 h8 v15 h-8z M1430 800 h6 v21 h-6z M1510 770 h5 v12 h-5z M1540 790 h8 v30 h-8z" fill="#120405" opacity=".85" filter="url(#blur1)"/>
<rect x="1340.4" y="761.4" width="242" height="61.5" fill="url(#led)"/>
<rect x="1520" y="800" width="30" height="20" fill="#ffffff" opacity=".25" filter="url(#blur1)"/>
<circle cx="1586" cy="768" r=".9" fill="#ddd"/><circle cx="1586" cy="774" r=".9" fill="#ddd"/><circle cx="1337" cy="790" r=".9" fill="#ddd"/><circle cx="1337" cy="800" r=".9" fill="#ddd"/>
</g></g>
<!-- letters -->
<g id="letters">
<text x="-2" y="32.5" class="pl">a</text>
<text x="1229" y="53.5" class="pl">b</text>
<text x="7.7" y="521" class="pl" font-weight="bold" style="font-size:58px">c</text>
<text x="642.3" y="533.5" class="pl">d</text>
<text x="1220" y="529.5" class="pl">e</text>
</g>


</svg>
</body></html>
